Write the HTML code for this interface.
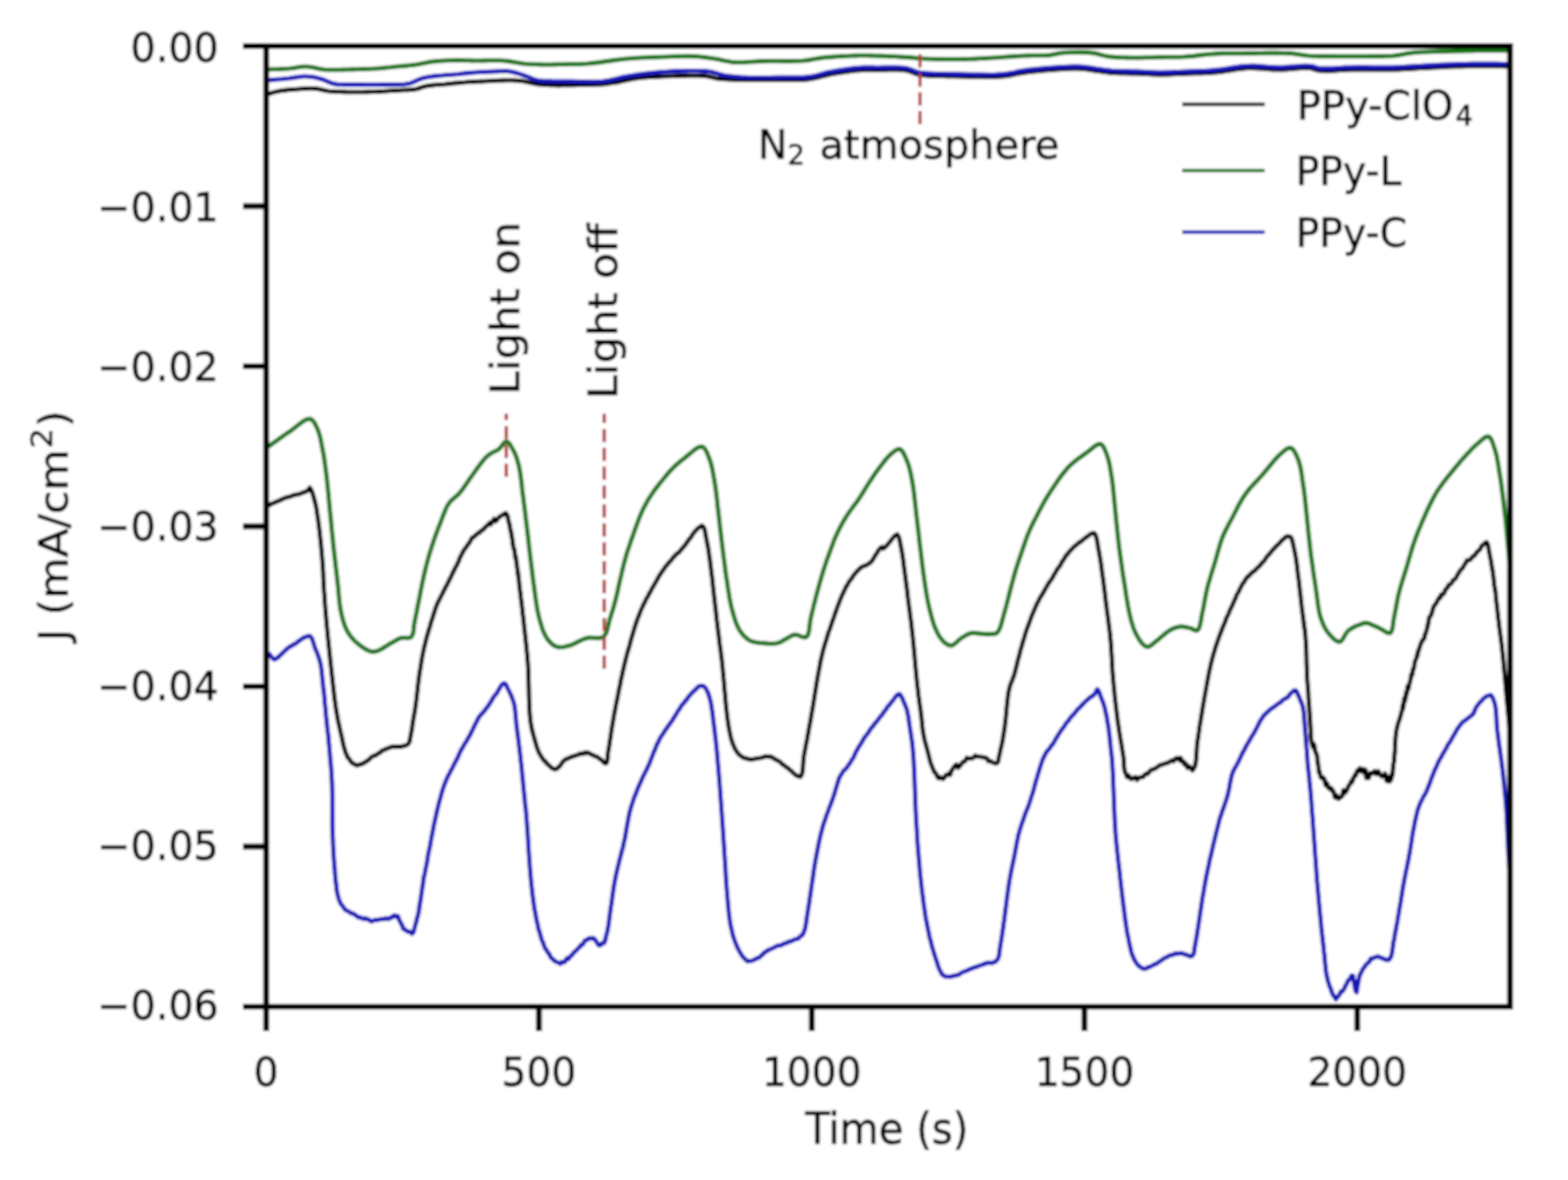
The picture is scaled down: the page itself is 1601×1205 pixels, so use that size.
<!DOCTYPE html>
<html><head><meta charset="utf-8"><style>
html,body{margin:0;padding:0;background:#fff;}
svg{display:block;}
text{fill:#000;stroke:#000;stroke-width:0.6px;}
</style></head><body>
<svg width="1601" height="1205" viewBox="0 0 1601 1205">
<defs><filter id="bl" filterUnits="userSpaceOnUse" x="0" y="0" width="1601" height="1205"><feGaussianBlur stdDeviation="1.0"/></filter></defs>
<g filter="url(#bl)">
<rect width="1601" height="1205" fill="#fff"/>
<defs><clipPath id="ax"><rect x="271.8" y="47.0" width="1270.0" height="981.0"/></clipPath></defs>
<g clip-path="url(#ax)">
<polyline points="274.0,516.7 276.8,514.7 279.5,513.7 282.2,512.4 284.9,511.4 287.8,509.9 289.2,509.4 290.7,508.4 292.7,508.1 294.6,507.2 296.8,507.0 299.0,505.9 301.3,505.3 303.5,504.9 305.6,504.5 307.8,503.7 309.6,502.9 311.3,502.4 313.9,500.9 314.5,500.9 315.0,500.0 315.4,499.6 315.7,498.8 316.1,498.5 316.4,498.0 317.3,499.3 318.2,501.4 319.1,503.7 320.0,506.7 320.8,509.7 321.6,512.9 322.0,514.0 322.4,516.3 322.8,517.7 323.1,519.3 323.4,521.3 323.7,523.6 324.0,525.4 324.3,527.8 324.6,529.1 324.9,531.3 325.2,533.8 325.5,536.2 325.7,537.9 325.9,539.0 326.2,542.0 326.4,543.0 326.6,544.5 326.7,546.7 326.9,548.0 327.1,550.0 327.3,551.6 327.4,553.3 327.6,555.4 327.8,556.6 327.9,558.3 328.1,560.3 328.2,561.3 328.4,563.2 328.5,565.7 328.7,566.5 328.8,567.9 329.0,570.4 329.1,572.1 329.3,574.2 329.5,576.6 329.6,578.5 329.7,580.8 329.9,582.7 330.0,585.3 330.1,587.2 330.1,589.3 330.2,590.9 330.3,593.2 330.4,595.8 330.6,597.8 330.7,600.3 330.8,601.9 330.9,603.4 331.0,604.9 331.2,606.9 331.3,609.0 331.4,611.1 331.5,612.3 331.7,614.6 331.8,616.1 331.9,617.7 332.1,619.8 332.2,621.7 332.4,623.3 332.5,625.3 332.7,627.3 332.9,629.7 333.0,631.0 333.2,633.3 333.4,635.2 333.6,637.3 333.7,639.3 333.9,640.9 334.1,642.3 334.2,644.6 334.4,646.0 334.5,648.2 334.7,649.6 334.9,651.0 335.0,652.7 335.2,654.2 335.4,656.3 335.5,657.9 335.7,659.5 335.9,661.2 336.1,662.5 336.2,664.2 336.4,665.8 336.6,668.3 336.8,669.9 337.0,671.4 337.1,673.1 337.3,674.7 337.5,676.7 337.7,678.1 337.8,679.6 338.0,681.0 338.2,682.6 338.4,684.7 338.6,686.7 338.8,688.1 339.0,690.4 339.2,691.8 339.4,694.4 339.6,695.6 339.8,697.3 340.0,699.5 340.2,700.7 340.4,702.6 340.6,704.5 340.8,705.9 341.0,708.0 341.2,709.9 341.4,711.6 341.6,713.7 341.8,714.9 342.1,716.3 342.3,718.2 342.6,720.5 342.9,722.6 343.2,724.5 343.6,727.3 344.0,729.3 344.3,731.0 344.7,733.6 345.1,735.4 345.5,737.4 345.9,739.4 346.4,741.2 346.8,743.3 347.3,745.6 347.7,747.5 348.2,749.3 348.7,751.7 349.1,753.4 349.6,755.8 350.0,757.8 350.5,760.1 351.0,762.1 351.5,764.3 352.1,766.0 352.7,768.0 353.3,769.7 354.1,771.1 354.8,773.2 356.0,774.3 357.3,776.1 358.7,778.2 360.1,779.5 361.6,780.2 363.1,781.0 364.4,781.5 365.8,781.4 367.1,780.6 368.5,780.6 370.0,779.8 371.4,779.2 373.3,778.0 375.1,776.8 377.0,775.6 379.0,773.3 381.0,772.1 383.1,771.6 385.7,769.8 387.1,768.9 388.5,768.3 390.0,766.5 391.4,766.1 392.9,765.8 394.3,764.6 397.1,763.8 399.7,762.7 401.4,762.5 403.0,762.6 404.6,762.5 406.1,762.6 407.6,762.4 409.1,762.8 410.5,762.2 411.9,761.8 413.3,761.5 414.6,761.1 415.8,760.5 416.8,759.7 417.5,758.4 418.1,757.8 418.5,755.9 418.7,754.0 419.0,752.7 419.3,751.1 419.8,748.6 420.3,745.8 420.7,743.9 421.1,740.8 421.5,737.6 421.9,735.5 422.3,732.7 422.7,730.5 423.2,728.3 423.6,726.1 424.0,723.0 424.4,720.0 424.7,717.8 425.0,716.1 425.2,714.1 425.5,710.7 425.7,709.8 425.9,708.2 426.1,706.4 426.3,704.3 426.4,703.0 426.6,700.9 426.8,699.5 427.0,698.2 427.2,695.7 427.5,694.8 427.7,693.0 427.9,691.1 428.2,688.4 428.6,686.9 428.9,684.1 429.3,682.1 429.7,679.5 430.0,677.4 430.4,675.1 430.8,672.7 431.2,670.2 431.7,667.9 432.1,665.7 432.6,663.7 433.1,661.1 433.6,658.8 434.2,657.1 434.7,654.4 435.3,652.4 435.9,649.9 436.5,648.1 437.1,645.8 437.7,643.6 438.3,641.8 438.9,640.2 439.5,637.8 440.0,635.7 440.6,634.0 441.1,632.4 441.7,630.7 442.2,629.0 442.8,626.8 443.4,625.4 443.9,623.7 444.6,621.3 445.2,620.0 445.8,618.3 446.5,616.6 447.2,614.7 447.9,613.7 448.7,612.1 449.4,610.7 450.2,609.0 451.0,607.5 451.8,606.3 452.6,604.3 453.4,602.6 454.2,601.5 455.0,599.3 455.8,598.4 456.6,596.7 457.4,594.8 458.1,594.0 458.9,591.8 459.7,590.3 460.5,588.9 461.2,587.5 462.0,585.3 462.8,584.2 463.5,582.7 464.3,581.0 465.1,579.4 465.9,578.1 466.6,576.8 467.3,575.2 468.1,573.6 468.8,571.9 469.5,569.6 470.3,568.1 471.1,566.8 471.9,565.2 472.7,563.6 473.5,562.2 474.4,560.8 476.1,558.6 478.0,555.8 479.9,553.4 481.9,549.1 483.9,548.3 486.0,546.2 488.3,544.3 489.5,544.1 490.7,542.4 491.9,541.6 493.1,541.1 495.6,538.3 497.9,536.3 500.0,534.0 501.2,535.4 502.4,532.8 503.5,532.1 504.5,529.8 505.6,532.3 506.8,531.8 508.3,529.5 509.9,527.8 511.5,527.0 513.1,525.7 514.6,525.2 515.8,524.1 516.7,524.0 517.5,525.5 518.1,526.9 518.6,527.8 519.1,531.7 519.7,533.8 520.4,536.0 520.8,539.1 521.1,540.7 521.4,541.8 521.7,543.4 522.0,543.5 522.3,547.0 522.6,548.5 522.9,549.2 523.2,551.4 523.5,555.6 523.8,555.8 524.2,559.0 524.5,560.4 524.8,560.9 525.2,561.2 525.5,563.6 525.8,565.2 526.1,569.6 526.5,568.1 526.8,569.3 527.1,572.9 527.4,573.6 527.6,576.7 527.8,577.4 528.1,580.1 528.3,581.3 528.5,581.3 528.7,586.4 529.0,584.9 529.2,586.7 529.4,589.0 529.6,590.5 529.8,592.1 530.0,595.1 530.2,596.1 530.4,598.4 530.6,599.8 530.8,601.8 531.0,603.3 531.2,605.0 531.5,606.8 531.7,609.1 531.9,611.0 532.1,612.3 532.3,614.2 532.5,616.2 532.8,618.2 533.0,619.5 533.2,621.4 533.4,623.5 533.6,626.0 533.8,627.3 534.0,628.7 534.3,630.9 534.5,632.7 534.7,634.7 534.9,636.7 535.1,638.5 535.3,641.0 535.5,642.8 535.8,644.6 536.0,646.9 536.2,648.7 536.5,651.0 536.7,652.8 536.9,655.2 537.1,657.4 537.3,659.0 537.5,659.7 537.6,661.7 537.8,664.2 537.9,665.2 538.1,667.2 538.3,668.6 538.4,670.6 538.5,671.7 538.7,673.9 538.8,675.3 539.0,677.3 539.1,679.1 539.2,681.2 539.3,682.3 539.4,685.3 539.5,686.5 539.5,688.4 539.6,689.9 539.6,692.0 539.7,693.6 539.7,695.2 539.8,697.1 539.8,698.8 539.9,700.8 539.9,702.3 540.0,704.2 540.0,706.0 540.0,708.0 540.1,709.6 540.1,710.8 540.2,712.9 540.2,714.8 540.3,716.3 540.4,717.9 540.4,719.8 540.5,722.0 540.6,723.8 540.7,725.1 540.8,727.5 541.0,729.9 541.2,731.5 541.3,733.9 541.5,735.3 541.8,737.8 542.1,739.1 542.3,740.4 542.6,742.3 543.2,745.2 543.9,747.9 544.6,750.6 545.4,753.4 546.1,756.1 546.9,758.4 547.6,761.5 548.5,764.0 549.4,766.3 550.5,768.9 551.6,770.8 552.8,772.8 554.1,774.6 555.4,776.8 556.8,777.4 558.2,779.5 559.7,781.0 561.1,782.0 562.7,783.8 564.2,784.6 565.8,785.3 567.3,785.6 568.8,784.8 570.3,783.5 571.8,782.0 573.2,780.0 574.7,777.8 576.3,776.4 577.5,775.3 578.7,775.1 580.0,774.4 581.2,774.0 582.5,773.4 584.0,772.7 586.0,772.2 588.3,771.3 590.7,770.6 593.0,769.4 595.1,769.9 596.8,768.8 597.5,768.4 598.0,769.0 598.4,768.3 598.9,768.8 599.4,768.9 600.0,768.7 601.6,769.1 603.6,770.4 605.8,771.4 608.0,772.3 610.2,773.2 612.0,774.6 613.3,775.5 614.5,776.3 615.7,777.5 616.8,778.8 617.8,779.5 618.6,779.6 619.4,778.8 619.9,777.5 620.3,775.0 620.5,772.2 620.8,769.6 621.2,766.1 621.6,764.0 622.0,762.0 622.2,760.3 622.5,758.3 622.8,756.5 623.0,754.9 623.3,753.1 623.6,751.1 623.9,748.9 624.2,747.1 624.5,744.6 624.8,743.0 625.1,741.4 625.4,739.1 625.8,737.2 626.1,735.5 626.5,733.0 626.8,730.8 627.1,729.7 627.4,727.8 627.8,726.4 628.1,724.2 628.4,722.7 628.8,720.7 629.1,718.8 629.5,716.9 629.9,715.2 630.2,713.8 630.5,712.2 630.8,710.7 631.1,709.0 631.5,707.2 631.8,705.5 632.1,703.5 632.4,702.7 632.8,700.7 633.1,699.4 633.4,697.8 633.7,695.4 634.1,693.9 634.5,692.5 634.9,690.4 635.2,689.2 635.6,687.0 636.0,685.1 636.5,683.4 636.9,681.5 637.3,679.4 637.8,677.5 638.2,676.1 638.7,674.1 639.1,672.2 639.5,670.8 640.0,668.8 640.8,665.7 641.2,664.6 641.7,662.7 642.1,661.4 642.6,659.9 643.1,658.0 643.6,655.8 644.1,654.0 644.7,652.3 645.2,650.0 645.7,648.5 646.3,646.6 646.8,644.9 647.4,642.8 648.0,640.4 648.6,639.1 649.2,637.0 649.8,635.0 650.4,633.7 651.0,631.7 651.7,630.3 652.3,628.6 653.0,626.8 653.7,625.0 654.3,623.5 655.0,621.9 655.7,620.4 656.5,618.5 657.2,617.1 657.9,615.9 658.7,614.2 659.4,612.5 660.2,611.3 661.0,609.7 661.7,608.8 662.5,606.8 663.3,605.6 664.1,604.1 664.9,602.8 665.7,601.0 666.5,599.6 668.0,597.2 669.5,594.5 671.0,591.8 672.6,588.8 674.1,586.6 675.8,583.9 677.5,581.8 679.2,578.9 681.0,577.2 682.8,574.7 684.6,572.8 686.4,570.7 687.9,568.6 689.4,567.4 690.8,565.6 692.4,564.8 694.0,563.2 695.7,560.9 696.8,559.8 697.9,558.3 698.9,557.3 699.9,556.3 700.8,554.7 701.8,553.3 702.7,552.2 703.7,550.5 704.7,549.6 705.7,548.5 706.7,546.4 708.0,544.6 709.3,543.0 710.6,541.6 711.8,540.3 712.9,539.2 714.1,538.5 716.7,536.8 718.1,537.9 719.2,539.9 720.0,543.6 720.3,545.0 720.6,547.1 720.9,548.5 721.2,550.1 721.6,552.1 721.9,553.5 722.3,555.8 722.7,557.5 723.0,559.3 723.4,561.6 723.7,563.7 724.0,566.2 724.3,568.7 724.6,570.5 724.9,572.0 725.2,575.1 725.4,576.6 725.7,579.0 726.0,581.2 726.2,583.3 726.4,584.4 726.6,586.7 726.9,588.2 727.1,590.1 727.3,592.0 727.5,593.7 727.7,596.0 727.9,597.7 728.1,599.6 728.3,601.2 728.5,603.6 728.8,605.3 729.0,607.8 729.2,609.4 729.4,611.2 729.6,613.1 729.8,614.2 730.0,617.1 730.2,618.2 730.5,620.4 730.7,622.3 730.9,624.1 731.1,626.0 731.3,628.1 731.5,629.7 731.7,631.7 731.9,633.8 732.2,635.4 732.4,637.3 732.6,638.9 732.8,641.1 733.0,642.5 733.2,644.7 733.5,646.4 733.7,648.1 733.9,649.6 734.1,651.4 734.3,652.8 734.5,654.9 734.7,656.6 734.9,657.9 735.1,659.9 735.3,661.1 735.6,663.0 735.8,664.2 736.0,666.0 736.2,667.9 736.4,669.6 736.6,671.3 736.9,673.0 737.1,675.4 737.3,677.3 737.5,678.6 737.6,680.3 737.8,682.0 738.0,683.5 738.1,685.4 738.3,687.2 738.5,688.6 738.6,690.6 738.8,692.0 738.9,694.1 739.1,696.3 739.3,698.1 739.4,700.0 739.5,701.9 739.7,703.3 739.8,704.8 740.0,706.2 740.1,707.8 740.3,709.6 740.4,711.3 740.6,713.0 740.7,714.9 740.9,716.4 741.0,718.1 741.2,719.6 741.3,721.3 741.5,723.1 741.7,724.6 741.9,726.3 742.1,728.0 742.3,730.4 742.5,731.5 742.7,733.5 743.0,735.2 743.2,736.8 743.5,739.5 743.7,739.9 744.1,742.6 744.5,745.1 744.9,746.6 745.2,748.4 745.6,750.4 746.0,752.2 746.4,753.9 746.9,755.4 747.8,758.3 748.9,761.1 749.8,763.4 750.7,764.9 751.7,766.8 752.8,768.4 754.0,769.8 755.3,771.2 756.8,772.2 758.4,773.4 760.2,774.2 762.0,774.5 763.8,775.0 765.6,775.6 767.3,775.5 769.0,775.3 770.7,774.9 772.5,774.5 774.2,774.3 775.9,774.1 777.6,773.8 779.4,773.3 781.2,772.4 782.9,772.7 784.6,772.5 786.2,772.9 787.6,772.8 788.9,773.7 790.1,774.5 791.3,775.2 792.6,776.0 793.9,776.6 795.6,777.5 797.2,778.7 798.9,780.6 800.6,781.4 802.4,783.2 804.2,784.0 806.4,786.1 808.7,788.1 809.9,789.3 811.1,790.3 813.4,792.1 815.4,792.8 817.1,793.2 818.4,791.6 818.8,790.2 819.3,788.4 819.5,786.6 819.8,784.6 819.9,781.8 820.1,779.6 820.2,778.0 820.4,775.4 820.7,773.1 820.9,771.1 821.2,769.9 821.5,768.3 821.9,766.0 822.2,764.7 822.5,762.8 822.8,761.2 823.1,759.7 823.4,758.1 823.8,756.6 824.1,755.1 824.4,752.5 824.8,750.6 825.1,749.2 825.4,748.2 825.6,746.1 825.9,744.4 826.2,742.7 826.5,741.1 826.9,739.4 827.2,737.5 827.5,735.9 827.8,734.1 828.1,732.2 828.4,730.4 828.7,728.6 829.0,727.1 829.3,725.4 829.6,723.7 829.9,722.0 830.2,720.4 830.5,718.7 830.7,716.8 831.0,715.2 831.3,713.8 831.5,712.3 831.8,709.9 832.0,708.7 832.3,707.7 832.5,705.7 832.8,704.3 833.0,702.5 833.3,700.7 833.5,699.2 833.8,697.5 834.1,695.6 834.3,694.5 834.6,693.0 834.9,691.2 835.3,688.5 835.8,686.2 836.2,684.0 836.7,681.5 837.1,679.5 837.6,676.7 838.0,674.2 838.5,672.8 839.1,669.8 839.6,667.7 840.1,665.5 840.7,663.3 841.3,661.2 841.9,658.9 842.5,657.0 843.2,654.9 843.9,652.7 844.5,650.6 845.2,648.3 845.9,645.7 846.6,644.1 847.4,642.1 848.1,640.0 848.8,637.7 849.5,635.6 850.3,633.3 851.0,631.5 851.8,629.2 852.5,626.9 853.3,625.0 854.1,622.5 854.9,620.3 855.7,618.1 856.5,616.3 857.3,614.0 858.1,611.8 858.8,610.4 859.5,608.5 860.3,606.9 861.0,605.4 861.7,604.1 862.5,602.2 863.2,600.8 864.0,599.1 864.8,597.9 865.6,596.6 866.5,594.8 867.4,593.2 869.2,591.2 870.1,589.8 871.1,588.1 873.0,585.7 875.0,583.5 877.1,581.4 879.1,579.3 880.6,578.9 882.2,577.8 883.8,577.5 885.3,576.8 886.9,575.5 888.4,574.8 889.5,573.7 890.5,572.7 891.6,570.7 892.7,568.9 893.8,566.8 894.9,565.7 895.9,564.0 896.9,562.0 898.6,559.9 900.0,558.8 900.4,558.9 900.7,558.6 900.9,559.8 901.2,559.4 901.5,559.7 901.9,560.2 903.7,558.9 904.9,557.5 906.1,556.4 907.5,554.6 908.9,553.0 910.3,551.2 911.7,549.4 912.9,547.8 914.2,546.7 916.1,545.7 917.1,547.2 917.9,548.7 918.5,551.0 919.0,553.5 919.4,556.2 920.0,558.6 920.3,561.0 920.7,562.4 921.0,564.5 921.4,566.5 921.7,568.8 922.0,570.7 922.3,572.8 922.6,575.5 922.9,577.9 923.2,580.4 923.5,582.6 923.8,584.7 924.0,586.3 924.3,588.5 924.5,589.3 924.7,591.5 924.9,593.1 925.1,594.7 925.3,596.3 925.6,597.8 925.8,600.2 926.0,601.4 926.2,603.0 926.4,605.0 926.6,607.1 926.8,608.6 927.0,610.5 927.2,612.0 927.5,614.1 927.7,615.3 927.9,617.3 928.1,619.1 928.3,620.3 928.5,622.3 928.8,623.8 929.0,625.5 929.2,627.4 929.4,629.1 929.6,630.9 929.9,632.5 930.1,633.8 930.3,636.1 930.5,637.4 930.7,638.9 930.9,641.2 931.1,643.2 931.3,644.9 931.5,645.9 931.7,648.1 931.9,650.1 932.1,651.5 932.3,653.9 932.5,655.7 932.7,657.9 932.8,659.0 933.0,661.4 933.2,663.6 933.4,665.2 933.5,667.0 933.7,668.8 933.9,670.8 934.0,672.5 934.2,674.4 934.4,676.3 934.5,678.4 934.7,680.1 934.9,682.0 935.1,684.4 935.3,686.4 935.5,688.5 935.7,690.8 935.9,692.8 936.1,694.5 936.3,696.5 936.5,699.0 936.7,700.9 937.0,702.5 937.2,705.0 937.5,706.7 937.7,709.4 938.0,711.6 938.3,713.3 938.5,715.2 938.8,717.3 939.1,719.8 939.4,721.7 939.7,723.4 940.0,725.9 940.2,728.0 940.5,729.8 940.7,731.2 940.9,733.4 941.1,735.2 941.3,736.8 941.5,738.8 941.6,740.5 941.8,742.7 942.0,743.9 942.2,746.0 942.5,747.1 942.7,749.1 943.0,750.4 943.6,753.5 944.2,756.3 944.9,758.7 945.6,761.6 946.4,764.0 947.1,766.9 947.8,769.4 948.6,772.9 949.3,775.7 950.1,778.7 951.0,781.2 952.1,783.9 953.2,786.6 954.4,789.0 955.6,789.5 956.9,792.8 958.4,794.9 959.8,793.7 961.2,794.3 962.7,795.6 964.3,794.0 965.8,791.5 967.4,791.3 968.8,790.0 970.1,791.2 971.4,787.2 972.6,785.2 973.8,783.8 975.1,781.8 976.5,780.7 978.4,784.0 980.5,781.7 982.7,778.5 984.9,777.7 987.2,773.9 989.4,774.8 991.5,774.4 993.6,774.0 995.7,771.7 997.9,772.6 1000.1,772.7 1002.3,773.0 1004.9,773.4 1007.8,774.5 1009.3,777.3 1010.8,777.0 1013.5,778.6 1015.9,779.4 1017.7,779.4 1018.5,778.6 1019.1,777.8 1019.4,776.3 1019.7,774.6 1019.9,772.9 1020.3,771.6 1020.7,770.2 1021.1,767.9 1021.5,765.7 1022.0,763.9 1022.4,761.8 1022.9,760.1 1023.3,757.8 1023.8,755.9 1024.0,753.9 1024.3,752.0 1024.6,750.6 1024.9,748.9 1025.1,747.1 1025.4,745.6 1025.6,743.8 1025.9,742.4 1026.1,739.9 1026.3,739.1 1026.5,737.1 1026.7,735.2 1026.9,733.5 1027.1,731.2 1027.3,729.7 1027.5,727.7 1027.7,725.6 1027.8,723.2 1028.0,721.6 1028.2,719.8 1028.4,717.9 1028.6,716.2 1028.8,714.2 1029.0,712.2 1029.3,710.0 1029.5,708.4 1029.8,706.3 1030.2,705.0 1030.6,703.0 1031.3,700.1 1032.1,698.1 1032.9,696.0 1033.7,694.4 1034.5,691.8 1035.3,690.0 1035.8,688.3 1036.2,686.6 1036.7,685.0 1037.1,683.1 1037.6,681.6 1038.0,679.6 1038.5,677.7 1038.9,675.6 1039.4,674.1 1039.9,671.9 1040.4,670.6 1040.9,668.7 1041.5,665.8 1042.2,663.0 1042.6,662.0 1043.0,660.7 1043.5,658.7 1044.0,657.2 1044.4,655.2 1044.9,653.9 1045.4,652.7 1045.9,650.8 1046.3,649.0 1046.8,647.5 1047.3,645.8 1047.8,644.3 1048.4,642.8 1048.9,641.3 1049.4,639.7 1050.2,638.1 1050.9,635.8 1051.7,633.8 1052.4,631.7 1053.2,629.4 1054.0,627.8 1054.9,625.7 1055.7,623.5 1056.6,621.7 1057.4,619.6 1058.3,617.8 1059.2,615.6 1060.1,614.4 1060.9,612.6 1061.8,610.7 1062.8,609.0 1063.7,607.8 1064.6,606.1 1065.6,604.6 1066.5,602.8 1067.5,601.1 1068.5,599.3 1069.5,597.7 1070.5,595.8 1071.7,594.1 1072.8,592.5 1074.0,591.2 1075.3,588.5 1076.5,586.4 1077.8,584.6 1079.0,581.8 1080.3,580.4 1081.4,578.7 1082.6,577.4 1083.6,575.1 1084.6,573.2 1085.7,572.2 1086.6,570.4 1087.5,569.0 1088.3,567.5 1089.3,566.5 1090.3,565.5 1091.5,563.8 1092.9,562.2 1094.3,560.9 1095.7,559.2 1097.2,557.8 1098.7,556.8 1100.4,555.3 1102.1,553.9 1104.0,552.9 1105.8,551.2 1107.6,549.8 1109.3,548.4 1110.7,547.8 1112.1,546.3 1113.4,545.3 1114.7,545.1 1115.9,544.4 1117.0,544.3 1118.4,545.8 1119.4,548.8 1119.8,550.4 1120.2,552.2 1120.5,554.1 1120.9,556.3 1121.2,559.2 1121.5,560.2 1121.8,562.0 1122.2,564.0 1122.6,565.9 1122.9,568.1 1123.3,570.4 1123.6,571.8 1123.9,574.5 1124.3,576.4 1124.5,578.5 1124.8,581.2 1125.1,583.1 1125.4,585.2 1125.7,587.8 1126.0,589.8 1126.3,591.3 1126.5,593.0 1126.7,594.8 1126.9,596.4 1127.1,597.9 1127.3,600.0 1127.6,601.4 1127.8,603.4 1128.0,604.6 1128.2,606.7 1128.4,608.7 1128.6,610.4 1128.8,611.6 1129.0,614.1 1129.2,615.5 1129.5,617.1 1129.7,618.7 1129.9,620.8 1130.1,622.6 1130.3,624.4 1130.5,625.6 1130.8,627.2 1131.0,629.0 1131.2,630.8 1131.5,632.3 1131.7,634.3 1131.9,635.6 1132.1,637.6 1132.3,639.4 1132.6,641.3 1132.8,642.9 1133.0,644.6 1133.2,645.9 1133.4,647.9 1133.6,649.5 1133.7,651.3 1133.9,653.6 1134.1,655.2 1134.3,657.6 1134.4,659.3 1134.5,660.5 1134.6,662.3 1134.7,664.0 1134.8,665.8 1134.9,667.1 1135.0,668.8 1135.1,670.3 1135.2,671.7 1135.3,673.9 1135.3,676.0 1135.4,677.0 1135.5,678.7 1135.6,680.2 1135.7,681.7 1135.8,683.5 1136.0,685.9 1136.1,688.3 1136.3,690.1 1136.5,691.8 1136.6,693.7 1136.8,696.1 1137.0,697.3 1137.1,699.7 1137.3,701.4 1137.5,703.5 1137.7,705.1 1137.9,707.0 1138.0,708.6 1138.2,710.7 1138.4,712.4 1138.6,714.2 1138.8,716.2 1139.0,717.8 1139.2,719.7 1139.4,721.6 1139.6,723.2 1139.9,725.3 1140.1,727.1 1140.4,729.4 1140.7,731.6 1140.9,734.1 1141.2,736.0 1141.5,738.1 1141.8,739.9 1142.1,742.2 1142.4,744.0 1142.7,746.3 1143.0,748.2 1143.3,749.9 1143.7,752.1 1144.0,754.8 1144.4,756.3 1144.7,758.4 1145.1,760.5 1145.4,762.9 1145.8,765.2 1146.1,767.0 1146.5,769.1 1146.8,771.3 1147.1,773.2 1147.4,776.3 1147.6,779.1 1147.7,782.2 1148.0,785.6 1148.6,788.0 1149.6,790.3 1150.8,793.3 1152.4,791.9 1154.1,795.3 1155.9,795.5 1157.8,794.2 1159.5,793.6 1161.0,796.5 1162.5,794.2 1164.0,793.9 1165.5,793.7 1167.0,793.5 1168.5,791.5 1170.2,790.1 1171.8,790.3 1173.5,788.1 1175.2,786.3 1176.9,785.5 1178.8,785.2 1180.8,783.8 1182.9,782.3 1185.0,781.1 1187.2,780.8 1189.4,779.7 1191.6,779.2 1193.8,778.3 1196.1,776.5 1198.4,777.2 1200.7,774.3 1202.7,774.0 1204.5,776.5 1205.5,774.0 1206.4,776.4 1207.2,778.0 1207.9,777.6 1208.7,777.8 1209.6,780.8 1211.0,780.2 1212.6,784.2 1214.3,782.6 1215.9,784.5 1217.4,786.8 1218.6,785.3 1220.0,782.6 1220.4,781.2 1220.9,778.6 1221.1,776.5 1221.2,775.7 1221.4,775.0 1221.5,771.2 1221.6,769.6 1221.7,770.8 1221.8,767.6 1221.9,765.7 1222.0,764.6 1222.3,759.1 1222.5,759.1 1222.9,754.9 1223.3,753.7 1223.7,749.8 1224.1,747.6 1224.6,744.2 1224.8,741.7 1225.1,740.5 1225.4,738.6 1225.7,737.1 1226.0,735.5 1226.3,732.9 1226.6,730.6 1227.0,729.1 1227.3,727.5 1227.5,725.8 1227.8,723.5 1228.1,722.4 1228.4,720.7 1228.7,718.5 1229.0,717.2 1229.3,715.4 1229.5,713.7 1229.8,712.4 1230.1,710.3 1230.4,709.1 1230.8,707.1 1231.1,704.7 1231.5,703.2 1231.9,700.9 1232.3,698.2 1232.7,696.7 1233.1,693.9 1233.5,691.9 1233.9,689.8 1234.3,687.7 1234.7,685.2 1235.2,683.8 1235.6,681.8 1236.1,679.4 1236.6,677.0 1237.2,675.1 1237.7,672.8 1238.3,670.6 1238.9,668.4 1239.5,666.4 1240.2,664.4 1240.8,662.0 1241.5,659.7 1242.2,658.0 1242.9,655.8 1243.6,653.7 1244.4,651.5 1244.9,649.9 1245.5,648.4 1246.1,647.0 1246.7,645.2 1247.3,644.2 1247.9,641.7 1248.5,640.7 1249.1,639.1 1249.8,637.7 1250.4,636.1 1251.1,634.7 1251.7,632.4 1252.4,630.6 1253.1,629.4 1253.8,628.1 1254.5,626.6 1255.2,624.7 1255.9,622.8 1256.7,621.3 1257.5,619.8 1258.3,618.0 1259.1,616.3 1259.9,614.3 1260.7,612.4 1261.5,611.2 1262.3,608.5 1263.2,606.6 1264.0,605.6 1264.9,603.9 1265.8,601.6 1266.7,600.3 1267.6,598.2 1268.5,596.5 1269.5,595.2 1270.4,594.2 1271.4,592.2 1272.6,590.4 1273.8,588.9 1275.1,588.3 1276.3,586.7 1277.6,585.5 1278.9,584.1 1280.3,583.4 1281.6,582.4 1282.9,580.8 1284.2,579.6 1285.5,578.5 1286.8,577.0 1288.1,575.3 1289.4,574.0 1290.7,573.0 1292.0,570.9 1293.2,569.0 1294.5,567.4 1295.8,566.1 1297.1,564.4 1298.3,563.3 1299.6,561.4 1300.9,560.2 1302.2,558.9 1303.4,557.2 1304.7,556.5 1306.0,555.1 1307.2,553.7 1308.5,552.1 1309.8,550.8 1311.1,550.2 1312.3,548.6 1314.5,547.6 1316.4,547.9 1317.7,548.3 1318.7,549.8 1319.5,552.2 1320.2,555.3 1320.9,558.6 1321.5,561.6 1321.9,563.3 1322.4,565.5 1322.7,567.1 1323.1,569.3 1323.4,571.4 1323.7,573.3 1324.0,575.7 1324.3,578.0 1324.5,580.4 1324.8,582.7 1325.1,585.1 1325.4,587.6 1325.6,589.3 1325.8,590.4 1326.1,592.5 1326.3,594.5 1326.5,596.1 1326.7,597.8 1326.9,600.1 1327.1,601.3 1327.3,603.8 1327.5,605.4 1327.8,607.8 1328.0,609.4 1328.2,611.5 1328.4,613.2 1328.6,615.2 1328.8,617.3 1329.0,618.6 1329.2,620.5 1329.5,622.6 1329.7,624.0 1329.9,625.8 1330.1,627.2 1330.4,630.7 1330.6,630.5 1330.8,632.5 1331.1,636.5 1331.3,635.1 1331.5,640.7 1331.8,640.0 1332.0,640.9 1332.2,643.1 1332.4,645.9 1332.6,644.3 1332.8,648.7 1332.9,650.3 1333.1,652.8 1333.2,653.4 1333.4,656.2 1333.5,660.0 1333.6,661.9 1333.7,660.2 1333.7,662.1 1333.8,663.7 1333.8,667.1 1333.9,667.6 1333.9,669.5 1334.0,671.1 1334.0,673.0 1334.1,678.4 1334.1,676.5 1334.2,679.7 1334.2,681.0 1334.3,681.4 1334.3,681.9 1334.4,684.4 1334.5,688.0 1334.6,691.3 1334.7,694.1 1334.9,694.8 1335.0,696.9 1335.1,698.5 1335.3,699.9 1335.4,702.4 1335.6,705.1 1335.7,706.0 1335.9,707.5 1336.0,712.2 1336.2,713.9 1336.3,717.5 1336.4,717.7 1336.6,720.5 1336.7,720.5 1336.8,721.8 1337.0,726.3 1337.1,726.4 1337.2,728.5 1337.4,731.0 1337.5,732.0 1337.6,735.6 1337.8,736.1 1337.9,740.4 1338.1,741.8 1338.2,742.6 1338.3,748.7 1338.4,750.9 1338.7,753.4 1339.2,758.4 1339.7,759.3 1340.4,762.6 1341.2,759.5 1341.9,760.9 1342.7,766.6 1343.4,767.8 1343.8,769.8 1344.3,769.9 1344.6,771.5 1345.0,772.7 1345.2,777.8 1345.4,779.1 1345.6,778.1 1345.9,781.3 1346.1,782.0 1346.4,785.5 1346.8,788.7 1347.3,787.7 1347.9,791.0 1348.5,793.6 1349.6,794.7 1350.8,793.9 1352.1,795.2 1353.5,801.9 1354.9,799.6 1356.3,804.6 1357.9,804.3 1358.7,806.4 1359.6,805.2 1360.5,807.6 1361.4,807.9 1363.1,814.4 1364.9,812.2 1366.5,815.9 1367.9,814.8 1369.2,813.9 1370.5,812.8 1371.8,806.8 1373.0,809.9 1374.3,808.4 1375.6,806.2 1377.0,802.2 1378.3,801.2 1379.6,797.7 1380.8,798.5 1382.0,793.8 1382.8,793.4 1383.6,791.2 1384.4,791.8 1385.2,788.6 1386.1,786.8 1387.1,787.4 1388.4,784.6 1389.8,787.9 1391.4,785.1 1392.9,789.2 1394.1,786.0 1394.8,788.7 1395.0,789.9 1395.0,790.0 1394.9,791.3 1394.8,792.2 1394.8,790.3 1395.0,794.4 1395.9,791.3 1397.5,794.6 1399.3,789.4 1401.4,789.7 1403.4,787.4 1405.3,790.6 1407.1,787.4 1408.9,790.5 1410.8,793.0 1412.5,792.5 1414.2,790.0 1415.6,797.0 1416.4,797.7 1417.1,793.0 1417.7,795.9 1418.3,797.4 1418.9,798.1 1419.4,796.2 1420.4,796.1 1421.2,790.3 1421.5,791.1 1421.8,791.9 1422.1,785.4 1422.3,786.2 1422.6,781.5 1422.8,779.6 1423.1,778.9 1423.3,778.4 1423.5,776.8 1423.6,772.3 1423.8,772.1 1423.9,768.6 1424.0,770.5 1424.2,768.2 1424.3,764.4 1424.3,763.5 1424.4,761.2 1424.5,759.7 1424.7,756.9 1424.8,755.5 1424.9,753.0 1425.1,752.2 1425.2,750.8 1425.5,748.2 1425.9,745.6 1426.2,744.1 1426.6,742.4 1427.4,738.9 1428.3,736.8 1429.2,734.0 1430.1,730.6 1431.0,727.3 1431.4,726.0 1431.9,724.4 1432.3,719.6 1432.7,723.5 1433.1,719.6 1433.6,715.9 1434.0,712.6 1434.4,716.2 1434.8,712.9 1435.3,712.8 1435.7,707.0 1436.2,708.7 1436.7,707.1 1437.2,700.8 1437.7,704.3 1438.3,702.7 1438.9,698.7 1439.4,697.6 1440.0,694.7 1440.5,693.0 1441.1,688.2 1441.6,689.9 1442.1,688.7 1442.6,683.6 1443.3,683.4 1444.0,680.2 1444.6,676.0 1445.3,674.2 1445.9,672.9 1446.4,671.5 1446.9,669.0 1447.3,669.7 1447.6,666.3 1448.0,664.5 1448.5,664.8 1449.0,662.5 1449.7,660.8 1450.6,657.2 1451.4,656.3 1452.4,653.6 1453.3,653.2 1454.2,652.1 1454.8,648.6 1455.4,647.4 1456.1,645.2 1456.7,643.4 1457.3,641.1 1457.9,637.4 1458.3,637.4 1458.7,634.2 1459.2,630.6 1459.8,630.5 1460.5,629.0 1461.2,627.9 1461.9,626.2 1463.0,622.0 1464.2,618.6 1465.4,617.7 1466.7,615.5 1468.1,612.8 1469.6,610.1 1470.5,610.6 1471.5,607.0 1472.5,607.8 1473.5,606.3 1474.6,605.8 1475.7,602.3 1476.8,601.1 1477.9,600.4 1479.1,597.3 1480.2,597.0 1481.3,596.4 1482.5,594.9 1483.7,592.4 1485.0,591.7 1486.3,590.9 1487.6,588.1 1488.9,585.8 1490.2,583.9 1491.6,581.6 1492.9,580.8 1494.1,578.9 1495.4,576.5 1496.7,574.7 1497.9,572.1 1499.7,572.2 1501.4,571.6 1503.2,568.6 1504.9,567.9 1506.5,566.1 1508.2,563.4 1509.8,562.3 1511.4,560.6 1513.1,557.0 1514.6,556.3 1516.0,554.8 1517.2,553.8 1518.1,553.9 1518.9,555.3 1519.5,557.5 1520.0,560.5 1520.5,564.3 1521.0,565.9 1521.5,569.2 1522.0,571.2 1522.3,572.4 1522.6,574.2 1522.9,576.8 1523.2,578.6 1523.5,579.9 1523.8,582.1 1524.1,582.9 1524.3,585.4 1524.6,587.9 1524.9,588.8 1525.2,592.8 1525.4,593.7 1525.7,597.4 1525.9,599.2 1526.2,599.2 1526.4,603.1 1526.7,602.3 1526.9,603.7 1527.1,605.6 1527.3,608.7 1527.6,611.1 1527.8,614.1 1528.0,615.5 1528.2,616.9 1528.4,618.0 1528.6,620.3 1528.8,621.9 1529.0,624.6 1529.2,625.4 1529.4,628.6 1529.6,630.6 1529.8,631.5 1530.0,633.0 1530.3,635.3 1530.5,636.9 1530.7,639.4 1530.9,640.2 1531.1,641.9 1531.3,643.6 1531.5,645.4 1531.7,647.0 1532.0,648.2 1532.2,649.9 1532.4,651.9 1532.6,653.5 1532.8,655.0 1533.0,656.6 1533.3,658.0 1533.5,660.9 1533.7,662.4 1533.9,664.5 1534.1,665.9 1534.3,668.4 1534.5,669.8 1534.7,672.1 1534.9,673.6 1535.0,675.2 1535.2,677.2 1535.4,679.0 1535.5,680.9 1535.7,682.7 1535.9,684.6 1536.0,686.4 1536.2,687.9 1536.3,689.4 1536.5,690.8 1536.6,692.1 1536.8,694.4 1536.9,696.1 1537.1,697.5 1537.2,699.5 1537.4,701.6 1537.6,703.5 1537.7,705.4 1537.9,706.9 1538.0,708.8 1538.2,709.8 1538.3,712.2 1538.5,713.8 1538.6,715.3 1538.8,717.7 1538.9,718.5 1539.1,719.9 1539.2,721.6 1539.4,723.3 1539.5,724.4 1539.8,728.2 1540.0,730.4 1540.3,732.4 1540.5,734.9 1540.7,737.1 1541.0,740.2 1541.2,742.4 1541.4,744.3 1541.6,746.2 1541.8,747.3 1541.9,749.1 1542.1,751.2 1542.3,752.6 1542.4,754.3 1542.6,756.3 1542.8,758.8 1543.0,759.9 1543.1,761.1 1543.3,763.0 1543.5,764.7 1543.7,766.8 1543.8,768.2 1544.0,769.7" fill="none" stroke="#000000" stroke-width="4.6" stroke-linejoin="round" stroke-linecap="butt"/>
<polyline points="274.0,96.0 275.8,95.5 277.5,94.9 279.3,94.4 281.1,93.9 283.0,93.4 285.0,93.0 288.0,92.5 291.3,92.1 294.7,91.7 298.2,91.4 301.7,91.2 305.0,91.0 307.8,90.8 310.5,90.6 313.2,90.4 315.8,90.3 318.4,90.3 321.0,90.4 323.3,90.6 325.6,91.1 327.9,91.6 330.1,92.1 332.5,92.6 335.0,93.0 338.0,93.3 341.2,93.5 344.5,93.7 347.8,93.8 351.3,93.9 354.9,94.0 359.7,94.0 364.7,94.0 369.9,94.0 375.2,93.9 380.2,93.7 384.9,93.6 388.5,93.4 391.9,93.2 395.2,93.0 398.4,92.8 401.6,92.6 404.9,92.4 408.3,92.2 411.8,92.0 415.4,91.9 418.8,91.7 422.0,91.4 424.9,91.0 426.7,90.6 428.4,90.0 429.9,89.5 431.4,88.9 433.1,88.4 434.9,88.0 437.8,87.5 441.0,87.1 444.4,86.8 448.0,86.5 451.5,86.3 454.9,86.0 458.2,85.6 461.5,85.3 464.9,84.9 468.2,84.6 471.5,84.2 474.9,84.0 478.2,83.7 481.4,83.6 484.7,83.4 488.0,83.3 491.4,83.1 494.9,83.0 499.1,82.8 503.6,82.5 508.1,82.3 512.7,82.1 516.9,82.0 520.8,82.0 523.4,82.0 525.8,82.1 528.1,82.3 530.3,82.4 532.6,82.7 534.8,83.0 537.2,83.4 539.5,83.9 541.8,84.5 544.1,85.0 546.4,85.6 548.8,86.0 551.4,86.3 554.1,86.5 556.8,86.7 559.5,86.8 562.2,86.9 564.8,87.0 567.1,87.0 569.3,87.1 571.4,87.1 573.6,87.0 576.1,87.0 578.8,87.0 584.5,86.9 591.2,86.8 598.5,86.7 606.0,86.5 613.3,86.1 620.0,85.6 625.3,84.8 630.6,83.9 635.6,82.8 640.6,81.7 645.4,80.7 650.0,80.0 653.4,79.5 656.6,79.2 659.6,79.0 662.8,78.7 666.1,78.6 669.9,78.4 677.3,78.0 686.1,77.7 695.5,77.4 704.7,77.2 713.1,77.2 719.9,77.6 722.7,77.9 725.1,78.4 727.2,78.9 729.2,79.5 731.4,80.0 733.9,80.4 737.7,80.8 741.8,81.0 746.0,81.2 750.5,81.4 755.1,81.5 759.9,81.6 766.2,81.7 772.9,81.7 779.9,81.7 786.9,81.7 793.6,81.6 799.9,81.6 804.5,81.6 809.0,81.6 813.3,81.6 817.5,81.6 821.7,81.4 825.9,81.0 829.9,80.3 833.8,79.5 837.7,78.5 841.7,77.4 845.7,76.4 849.8,75.6 854.8,74.7 860.0,73.9 865.3,73.2 870.5,72.5 875.4,71.9 879.8,71.6 882.4,71.5 884.7,71.4 886.8,71.4 888.9,71.5 891.2,71.5 893.8,71.6 898.4,71.5 903.8,71.4 909.4,71.3 915.1,71.3 920.4,71.5 925.0,72.0 927.6,72.5 929.8,73.3 931.9,74.1 934.0,75.0 936.3,75.8 939.0,76.4 943.9,77.0 949.5,77.4 955.5,77.7 961.9,77.8 968.4,77.9 975.0,78.0 983.1,78.2 991.8,78.4 1000.8,78.5 1009.6,78.6 1017.8,78.4 1024.9,78.0 1028.7,77.5 1032.1,76.9 1035.2,76.3 1038.3,75.6 1041.4,75.0 1044.9,74.4 1049.5,73.8 1054.4,73.2 1059.5,72.7 1064.7,72.2 1069.8,71.7 1074.9,71.4 1080.0,71.0 1085.3,70.7 1090.6,70.5 1095.7,70.3 1100.5,70.3 1104.9,70.4 1107.5,70.6 1109.9,70.9 1112.1,71.3 1114.3,71.6 1116.5,72.0 1118.9,72.4 1121.4,72.7 1123.9,73.1 1126.5,73.5 1129.1,73.8 1131.9,74.1 1134.9,74.4 1139.4,74.7 1144.4,74.9 1149.6,75.0 1154.9,75.1 1160.1,75.2 1164.8,75.4 1168.4,75.6 1171.7,75.8 1175.0,76.0 1178.2,76.2 1181.4,76.3 1184.8,76.4 1188.7,76.3 1192.5,76.2 1196.4,76.0 1200.5,75.8 1204.6,75.6 1208.8,75.4 1214.0,75.2 1219.5,75.0 1225.0,74.9 1230.7,74.7 1236.3,74.4 1241.9,74.0 1247.2,73.4 1252.5,72.6 1257.8,71.7 1263.1,70.8 1268.4,70.1 1273.7,69.7 1279.0,69.7 1284.3,69.9 1289.6,70.3 1294.9,70.7 1300.3,71.1 1305.6,71.2 1311.1,71.1 1316.8,70.7 1322.6,70.2 1328.1,69.8 1333.1,69.6 1337.4,69.7 1339.5,70.0 1341.2,70.5 1342.7,71.0 1344.3,71.5 1346.0,72.0 1348.0,72.3 1352.3,72.5 1357.2,72.4 1362.6,72.1 1368.3,71.8 1374.1,71.4 1379.9,71.2 1386.8,71.2 1394.1,71.2 1401.7,71.2 1409.1,71.3 1416.1,71.3 1422.4,71.2 1426.2,71.1 1429.7,70.9 1433.0,70.8 1436.2,70.6 1439.7,70.4 1443.6,70.2 1449.9,69.8 1456.9,69.4 1464.3,69.0 1471.8,68.6 1479.2,68.3 1486.1,68.0 1491.6,67.9 1497.0,67.8 1502.3,67.7 1507.5,67.6 1512.7,67.6 1517.9,67.6 1523.2,67.6 1528.5,67.7 1533.8,67.8 1539.2,67.9 1544.5,68.0 1549.8,68.0" fill="none" stroke="#000000" stroke-width="4.6" stroke-linejoin="round" stroke-linecap="butt"/>
<polyline points="274.0,456.0 277.7,453.4 281.3,450.8 285.0,448.2 288.6,445.6 292.2,443.0 295.9,440.6 299.4,438.0 303.2,435.0 306.9,432.1 310.5,429.6 313.7,428.0 316.4,427.7 318.1,428.4 319.6,429.7 320.9,431.5 322.1,433.6 323.1,435.8 324.2,438.0 325.3,440.9 326.3,444.2 327.2,447.6 327.9,451.2 328.6,454.9 329.3,458.6 330.1,462.6 330.8,466.7 331.4,470.9 332.0,475.2 332.6,479.7 333.2,484.3 333.9,490.3 334.5,496.6 335.2,503.1 335.8,509.7 336.4,516.4 337.0,522.9 337.7,529.4 338.3,535.9 338.9,542.4 339.6,548.8 340.2,555.2 340.9,561.5 341.5,567.2 342.2,572.9 342.8,578.5 343.5,584.0 344.1,589.5 344.7,594.9 345.3,600.1 345.7,605.3 346.2,610.4 346.7,615.5 347.3,620.3 348.2,624.9 349.0,628.6 349.9,632.1 350.9,635.5 352.0,638.8 353.3,642.0 354.8,644.9 356.4,647.4 358.1,649.9 360.0,652.2 362.1,654.3 364.2,656.3 366.4,658.1 368.7,659.8 371.1,661.5 373.6,663.1 376.2,664.4 378.8,665.3 381.4,665.6 384.4,665.1 387.6,663.8 390.8,662.0 394.0,660.0 397.0,658.1 399.7,656.5 401.5,655.6 403.1,654.6 404.6,653.7 406.1,652.9 407.7,652.2 409.3,651.6 411.1,651.3 413.0,651.3 414.9,651.5 416.8,651.5 418.4,651.2 419.8,650.5 421.0,648.9 421.7,646.7 422.2,644.1 422.5,641.2 422.8,638.2 423.3,635.3 424.0,631.7 424.8,627.9 425.6,624.0 426.3,620.0 427.1,616.0 427.9,612.1 428.7,608.2 429.4,604.2 430.2,600.3 431.0,596.4 431.8,592.5 432.6,588.8 433.3,585.6 434.1,582.4 434.8,579.4 435.6,576.3 436.4,573.3 437.2,570.2 438.1,567.1 439.0,564.0 440.0,560.9 440.9,557.8 442.0,554.7 443.0,551.6 444.1,548.5 445.2,545.4 446.4,542.3 447.5,539.2 448.8,536.1 450.0,533.0 451.2,529.8 452.4,526.6 453.7,523.3 455.0,520.1 456.4,517.1 458.1,514.4 459.8,512.2 461.7,510.3 463.8,508.5 465.8,506.7 467.9,504.9 469.8,502.8 471.8,500.3 473.7,497.7 475.5,495.0 477.4,492.2 479.3,489.4 481.4,486.5 483.9,483.0 486.6,479.2 489.4,475.4 492.2,471.7 494.9,468.4 497.7,465.6 499.7,464.1 501.7,462.8 503.7,461.8 505.7,460.8 507.6,459.8 509.4,458.6 510.8,457.2 512.2,455.5 513.4,453.8 514.7,452.3 515.9,451.2 517.1,450.9 518.5,451.4 519.8,452.7 521.2,454.6 522.5,456.8 523.7,459.0 524.8,461.2 525.9,463.4 526.9,465.8 527.7,468.3 528.5,470.9 529.2,473.7 530.0,476.6 530.8,480.8 531.5,485.3 532.1,490.1 532.7,495.0 533.2,500.0 533.8,504.9 534.5,509.9 535.1,515.0 535.8,520.2 536.4,525.3 537.0,530.5 537.7,535.8 538.3,541.3 539.0,546.9 539.6,552.5 540.2,558.1 540.9,563.7 541.5,569.2 542.1,574.4 542.8,579.6 543.4,584.7 544.0,589.8 544.7,594.9 545.4,600.1 546.1,605.3 546.8,610.6 547.6,615.9 548.4,621.2 549.4,626.2 550.5,630.9 551.6,634.8 552.7,638.5 553.8,642.2 555.1,645.6 556.6,648.7 558.2,651.5 559.7,653.5 561.3,655.4 563.0,657.1 564.7,658.5 566.6,659.7 568.5,660.5 570.5,660.9 572.6,661.0 574.7,660.8 576.9,660.4 579.1,659.8 581.4,659.2 584.3,658.3 587.2,656.9 590.2,655.4 593.3,653.8 596.4,652.5 599.4,651.5 602.3,651.1 605.3,651.2 608.4,651.5 611.3,651.6 613.9,651.3 616.1,650.2 617.9,648.2 619.3,645.4 620.3,642.1 621.1,638.5 621.9,635.0 622.8,631.7 623.8,628.7 624.7,625.7 625.7,622.7 626.6,619.7 627.4,616.6 628.3,613.4 629.2,609.6 630.2,605.7 631.0,601.7 631.9,597.6 632.8,593.6 633.7,589.7 634.6,586.0 635.4,582.3 636.3,578.7 637.2,575.0 638.2,571.4 639.2,567.8 640.3,564.1 641.5,560.5 642.7,556.9 643.9,553.2 645.2,549.6 646.5,545.9 647.9,541.9 649.4,537.8 650.9,533.7 652.4,529.7 654.0,525.8 655.6,522.1 657.0,519.1 658.5,516.3 660.0,513.6 661.5,510.9 663.1,508.3 664.8,505.7 666.5,503.2 668.3,500.7 670.1,498.2 672.0,495.8 673.8,493.4 675.7,491.1 677.5,488.9 679.3,486.7 681.1,484.5 682.9,482.4 684.8,480.3 686.7,478.3 688.7,476.4 690.7,474.5 692.8,472.7 694.9,470.9 697.1,469.2 699.4,467.4 702.2,465.1 705.3,462.5 708.4,459.9 711.5,457.7 714.3,456.2 716.7,456.0 718.4,456.9 719.9,458.6 721.2,460.8 722.4,463.5 723.4,466.2 724.5,468.9 725.6,472.2 726.6,475.9 727.4,479.7 728.2,483.8 728.9,487.9 729.6,492.0 730.4,496.9 731.1,501.9 731.7,507.1 732.3,512.3 732.8,517.6 733.5,522.9 734.1,528.4 734.7,533.9 735.3,539.4 736.0,545.0 736.6,550.6 737.3,556.3 738.1,562.7 738.9,569.2 739.8,575.8 740.6,582.4 741.5,588.8 742.5,594.9 743.2,600.0 744.0,604.9 744.7,609.7 745.6,614.3 746.5,618.8 747.6,623.2 748.7,627.0 749.8,630.7 750.9,634.3 752.2,637.7 753.7,640.9 755.3,643.8 756.8,645.9 758.4,647.9 760.0,649.8 761.8,651.4 763.7,652.9 765.6,654.1 767.6,654.9 769.6,655.6 771.8,656.0 774.0,656.2 776.2,656.5 778.5,656.7 781.0,656.9 783.6,657.1 786.3,657.2 789.0,657.2 791.5,657.1 793.9,656.7 795.8,656.1 797.6,655.3 799.3,654.3 801.0,653.3 802.6,652.4 804.2,651.5 805.5,650.8 806.7,650.1 807.8,649.4 809.0,648.8 810.3,648.4 811.6,648.1 813.5,648.3 815.5,648.9 817.7,649.8 819.8,650.6 821.7,650.9 823.3,650.5 824.8,648.7 825.7,645.9 826.3,642.3 826.8,638.4 827.2,634.4 827.9,630.7 828.8,626.9 829.8,623.0 830.7,619.1 831.7,615.1 832.7,611.2 833.7,607.4 834.6,603.8 835.6,600.3 836.5,596.9 837.5,593.4 838.5,590.0 839.5,586.5 840.6,583.0 841.7,579.5 842.9,576.0 844.0,572.5 845.3,569.1 846.5,565.6 847.8,562.1 849.1,558.6 850.4,555.0 851.7,551.5 853.2,548.1 854.7,544.7 856.3,541.5 857.9,538.3 859.6,535.1 861.4,532.0 863.2,529.0 865.1,526.0 866.9,523.2 868.9,520.5 870.8,517.9 872.8,515.2 874.8,512.6 876.7,509.8 878.7,506.8 880.6,503.7 882.6,500.5 884.5,497.3 886.4,494.2 888.4,491.2 890.3,488.4 892.2,485.5 894.2,482.7 896.1,480.0 898.1,477.4 900.0,474.9 901.6,472.8 903.2,470.8 904.8,468.8 906.4,467.0 908.0,465.2 909.7,463.7 911.1,462.5 912.7,461.2 914.3,460.0 915.8,459.1 917.3,458.6 918.7,458.6 920.2,459.5 921.6,461.2 922.9,463.5 924.2,466.1 925.3,468.8 926.4,471.4 927.5,474.5 928.5,477.7 929.3,481.1 930.1,484.6 930.8,488.3 931.5,492.0 932.3,496.8 933.0,501.8 933.6,507.0 934.2,512.3 934.8,517.6 935.4,522.9 936.0,528.4 936.7,534.0 937.3,539.6 938.0,545.2 938.6,550.8 939.2,556.3 939.9,561.6 940.5,566.7 941.1,571.9 941.7,577.0 942.4,582.1 943.1,587.2 943.8,592.4 944.6,597.6 945.4,602.8 946.2,608.0 947.2,613.1 948.2,618.1 949.3,622.6 950.5,627.3 951.7,631.8 953.0,636.2 954.4,640.2 956.0,643.8 957.1,646.1 958.3,648.4 959.6,650.4 960.9,652.3 962.2,653.9 963.7,655.4 964.9,656.4 966.1,657.3 967.4,658.2 968.7,658.8 970.1,659.2 971.4,659.2 973.1,658.7 974.7,657.6 976.4,656.1 978.2,654.4 979.9,652.8 981.7,651.5 983.4,650.5 985.1,649.4 986.8,648.4 988.6,647.5 990.3,646.8 992.0,646.4 993.3,646.2 994.6,646.3 995.9,646.4 997.2,646.6 998.6,646.9 1000.0,647.0 1001.9,647.1 1004.0,647.3 1006.1,647.5 1008.2,647.6 1010.2,647.6 1012.0,647.5 1013.2,647.4 1014.3,647.4 1015.4,647.3 1016.4,647.1 1017.4,646.7 1018.3,646.0 1019.8,643.9 1021.1,641.0 1022.3,637.4 1023.4,633.4 1024.4,629.5 1025.4,625.8 1026.4,622.3 1027.4,618.8 1028.3,615.2 1029.2,611.7 1030.1,608.1 1031.0,604.6 1031.9,601.1 1032.8,597.6 1033.8,594.0 1034.7,590.5 1035.7,587.0 1036.7,583.5 1037.8,579.9 1038.9,576.4 1040.1,572.8 1041.3,569.3 1042.5,565.8 1043.7,562.3 1044.8,558.9 1046.0,555.6 1047.1,552.3 1048.3,549.0 1049.5,545.8 1050.8,542.6 1052.1,539.7 1053.4,536.9 1054.8,534.1 1056.2,531.3 1057.7,528.5 1059.2,525.6 1060.9,522.3 1062.7,518.9 1064.5,515.5 1066.4,512.0 1068.5,508.5 1070.7,504.9 1073.7,500.2 1077.0,495.3 1080.4,490.2 1084.0,485.3 1087.7,480.7 1091.3,476.6 1094.3,473.7 1097.3,471.2 1100.3,468.8 1103.4,466.6 1106.4,464.5 1109.3,462.4 1111.8,460.5 1114.4,458.4 1116.9,456.3 1119.3,454.6 1121.5,453.6 1123.5,453.4 1124.9,454.1 1126.1,455.5 1127.1,457.2 1128.1,459.3 1129.0,461.5 1129.9,463.7 1131.0,466.9 1132.0,470.5 1132.9,474.3 1133.6,478.4 1134.3,482.6 1135.0,486.9 1135.8,492.4 1136.5,498.3 1137.1,504.4 1137.7,510.6 1138.3,516.8 1138.9,522.9 1139.5,528.9 1140.1,534.9 1140.7,540.9 1141.4,546.9 1142.0,552.9 1142.7,558.9 1143.5,564.9 1144.3,570.9 1145.2,576.9 1146.0,582.9 1146.9,588.9 1147.9,594.9 1148.9,601.1 1149.8,607.4 1150.9,613.7 1151.9,619.9 1153.1,625.7 1154.3,630.9 1155.2,634.4 1156.2,637.6 1157.1,640.7 1158.2,643.6 1159.4,646.3 1160.8,648.9 1162.2,651.4 1163.8,653.9 1165.5,656.3 1167.4,658.3 1169.2,659.8 1171.0,660.5 1172.7,660.4 1174.4,659.6 1176.1,658.4 1177.8,657.0 1179.6,655.5 1181.3,654.1 1183.4,652.5 1185.6,650.6 1187.7,648.7 1189.9,646.9 1192.1,645.2 1194.2,643.8 1195.9,642.9 1197.6,642.0 1199.3,641.3 1201.0,640.7 1202.8,640.2 1204.5,639.9 1206.2,639.8 1208.0,639.9 1209.7,640.2 1211.5,640.5 1213.2,640.9 1214.8,641.2 1216.2,641.7 1217.6,642.4 1218.9,643.1 1220.2,643.7 1221.4,644.0 1222.5,643.8 1223.8,642.4 1224.8,639.9 1225.6,636.7 1226.3,633.0 1226.9,629.3 1227.6,625.8 1228.5,621.8 1229.3,617.6 1230.1,613.2 1230.9,608.8 1231.8,604.4 1232.8,600.1 1233.9,595.8 1235.2,591.5 1236.5,587.2 1237.8,582.9 1239.2,578.6 1240.5,574.3 1241.7,570.0 1242.9,565.6 1244.1,561.3 1245.4,556.9 1246.7,552.7 1248.2,548.6 1249.7,545.0 1251.4,541.6 1253.1,538.2 1254.8,534.9 1256.7,531.5 1258.5,528.0 1260.5,524.2 1262.5,520.3 1264.5,516.4 1266.7,512.4 1268.9,508.6 1271.4,504.9 1274.1,501.3 1277.0,497.8 1280.1,494.4 1283.2,491.1 1286.3,487.7 1289.4,484.3 1292.4,480.7 1295.5,477.0 1298.6,473.2 1301.6,469.6 1304.6,466.4 1307.4,463.7 1309.2,462.1 1311.0,460.5 1312.8,459.1 1314.5,458.0 1316.1,457.3 1317.7,457.3 1319.2,458.1 1320.6,459.5 1321.9,461.5 1323.2,463.9 1324.3,466.4 1325.4,468.9 1326.6,472.5 1327.6,476.5 1328.5,480.8 1329.2,485.3 1329.8,490.0 1330.5,494.6 1331.3,499.9 1332.0,505.4 1332.6,511.0 1333.2,516.6 1333.8,522.3 1334.4,528.0 1335.0,534.0 1335.6,539.9 1336.2,546.0 1336.9,552.0 1337.5,558.0 1338.2,564.1 1339.0,570.1 1339.9,576.2 1340.7,582.2 1341.6,588.3 1342.5,594.2 1343.4,600.1 1344.2,605.5 1344.9,611.0 1345.6,616.4 1346.4,621.6 1347.3,626.5 1348.5,630.9 1349.6,633.9 1350.7,636.8 1351.9,639.4 1353.2,641.9 1354.6,644.2 1356.3,646.4 1358.0,648.4 1359.9,650.5 1361.9,652.5 1364.0,654.1 1366.0,655.1 1367.8,655.4 1369.4,654.6 1370.9,652.8 1372.2,650.5 1373.6,648.0 1375.1,645.7 1376.8,643.8 1378.8,642.4 1381.0,641.1 1383.3,639.9 1385.7,638.9 1387.8,638.1 1389.7,637.4 1390.7,637.0 1391.5,636.7 1392.3,636.4 1393.1,636.2 1394.0,636.1 1395.0,636.1 1396.8,636.4 1398.9,637.1 1401.1,638.1 1403.4,639.2 1405.7,640.2 1407.9,641.2 1409.9,642.3 1412.1,643.6 1414.2,644.9 1416.2,646.0 1418.0,646.5 1419.4,646.4 1420.6,645.1 1421.4,643.0 1422.0,640.3 1422.4,637.2 1422.8,634.0 1423.3,630.9 1424.1,627.0 1424.9,622.8 1425.7,618.5 1426.5,614.0 1427.4,609.6 1428.4,605.2 1429.6,600.9 1430.8,596.6 1432.1,592.3 1433.5,588.0 1434.8,583.8 1436.2,579.5 1437.4,575.2 1438.6,570.9 1439.9,566.6 1441.1,562.3 1442.4,558.0 1443.9,553.8 1445.4,549.4 1447.0,545.1 1448.7,540.8 1450.5,536.6 1452.3,532.3 1454.2,528.0 1456.1,523.7 1458.1,519.3 1460.2,514.9 1462.4,510.6 1464.6,506.4 1467.0,502.3 1469.4,498.7 1471.9,495.1 1474.5,491.7 1477.1,488.3 1479.8,485.0 1482.5,481.7 1485.0,478.6 1487.7,475.4 1490.3,472.3 1492.9,469.3 1495.5,466.4 1497.9,463.7 1499.7,461.8 1501.4,460.0 1503.0,458.2 1504.7,456.6 1506.4,455.0 1508.2,453.4 1510.1,451.8 1512.1,449.9 1514.2,448.2 1516.2,446.7 1518.1,445.8 1519.8,445.7 1521.2,446.6 1522.4,448.3 1523.5,450.5 1524.4,453.1 1525.3,455.9 1526.2,458.6 1527.3,462.3 1528.3,466.4 1529.1,470.8 1529.9,475.3 1530.6,479.8 1531.3,484.3 1532.1,489.0 1532.8,493.7 1533.4,498.5 1534.0,503.3 1534.6,508.0 1535.2,512.6 1535.7,516.6 1536.1,520.4 1536.5,524.2 1537.0,527.9 1537.4,531.8 1537.8,535.8 1538.2,540.3 1538.6,544.9 1539.0,549.5 1539.4,554.3 1539.9,559.1 1540.3,564.1 1540.9,569.8 1541.5,575.7 1542.2,581.8 1542.9,587.9 1543.5,594.0 1544.2,600.1" fill="none" stroke="#167516" stroke-width="4.6" stroke-linejoin="round" stroke-linecap="butt"/>
<polyline points="274.0,71.0 277.5,70.8 281.1,70.7 284.6,70.6 288.1,70.4 291.6,70.2 295.0,70.0 298.1,69.7 301.1,69.2 304.1,68.7 307.0,68.3 310.0,68.0 313.0,68.0 315.9,68.2 318.9,68.7 321.8,69.3 324.8,70.0 327.8,70.6 331.0,71.0 334.7,71.2 338.6,71.3 342.6,71.3 346.6,71.2 350.8,71.1 354.9,71.0 359.8,70.9 364.9,70.8 370.1,70.6 375.3,70.5 380.2,70.3 384.9,70.0 388.5,69.7 391.9,69.4 395.2,69.0 398.4,68.7 401.6,68.3 404.9,68.0 408.3,67.7 411.7,67.4 415.1,67.1 418.4,66.8 421.7,66.4 424.9,66.0 427.6,65.5 430.2,65.0 432.8,64.5 435.4,63.9 438.1,63.4 440.9,63.0 444.6,62.6 448.6,62.3 452.7,62.0 456.9,61.8 461.0,61.7 464.9,61.6 468.3,61.6 471.5,61.6 474.7,61.7 478.0,61.8 481.3,61.9 484.9,62.0 489.6,62.0 494.6,61.9 499.9,61.8 505.1,61.7 510.1,61.8 514.9,62.0 518.4,62.4 521.8,62.9 525.1,63.4 528.3,64.0 531.5,64.6 534.8,65.0 538.1,65.3 541.4,65.5 544.7,65.7 548.0,65.8 551.4,65.9 554.8,66.0 558.7,66.0 562.7,66.0 566.8,65.9 570.8,65.8 574.9,65.7 578.8,65.6 582.3,65.5 585.7,65.5 589.1,65.5 592.5,65.4 596.1,65.2 600.0,65.0 605.9,64.4 612.4,63.6 619.2,62.6 626.2,61.6 633.1,60.7 640.0,60.0 646.7,59.5 653.5,59.0 660.3,58.7 667.0,58.4 673.6,58.2 679.9,58.0 685.3,57.8 690.5,57.6 695.6,57.5 700.5,57.4 705.3,57.4 709.9,57.6 713.5,57.8 716.9,58.2 720.2,58.6 723.4,59.0 726.6,59.5 729.9,60.0 733.2,60.6 736.4,61.3 739.6,62.0 742.9,62.6 746.3,63.2 749.9,63.6 754.5,63.7 759.3,63.6 764.2,63.3 769.3,63.0 774.6,62.6 779.9,62.4 786.4,62.3 793.3,62.3 800.4,62.4 807.3,62.4 813.9,62.3 819.9,62.0 823.5,61.6 826.9,61.1 830.0,60.6 833.1,60.0 836.4,59.4 839.8,59.0 844.5,58.5 849.5,58.1 854.7,57.7 859.8,57.4 864.9,57.2 869.8,57.0 873.9,56.9 877.9,56.8 881.8,56.8 885.7,56.8 889.7,56.9 893.8,57.0 898.9,57.1 904.2,57.3 909.6,57.6 915.0,57.8 920.1,58.1 925.0,58.4 928.5,58.6 931.7,58.9 934.8,59.2 938.0,59.5 941.3,59.8 945.0,60.0 950.9,60.2 957.5,60.4 964.5,60.5 971.5,60.5 978.5,60.5 984.9,60.4 990.2,60.3 995.3,60.1 1000.2,59.8 1005.1,59.6 1010.0,59.3 1014.9,59.0 1020.0,58.7 1025.0,58.3 1030.1,57.9 1035.1,57.6 1040.0,57.2 1044.9,57.0 1049.4,56.9 1054.0,56.8 1058.5,56.8 1062.9,56.8 1067.1,56.7 1070.9,56.4 1073.4,56.1 1075.7,55.6 1077.8,55.2 1080.0,54.7 1082.3,54.3 1084.9,54.0 1089.3,53.7 1094.4,53.5 1099.8,53.4 1105.2,53.4 1110.3,53.6 1114.9,54.0 1117.8,54.4 1120.5,55.0 1123.0,55.7 1125.5,56.4 1128.1,57.1 1130.9,57.6 1134.5,58.0 1138.4,58.4 1142.4,58.6 1146.5,58.8 1150.6,58.9 1154.8,59.0 1159.7,59.0 1164.7,59.0 1169.8,58.8 1175.0,58.7 1180.0,58.5 1184.8,58.4 1188.9,58.3 1192.9,58.3 1196.8,58.3 1200.6,58.3 1204.6,58.2 1208.8,58.0 1214.0,57.6 1219.5,57.1 1225.0,56.4 1230.7,55.8 1236.3,55.3 1241.9,54.9 1247.1,54.6 1252.3,54.5 1257.5,54.5 1262.8,54.5 1268.1,54.5 1273.7,54.4 1280.6,54.4 1288.0,54.2 1295.5,54.1 1302.9,54.1 1309.9,54.2 1316.2,54.4 1320.1,54.8 1323.8,55.2 1327.3,55.7 1330.6,56.2 1334.0,56.7 1337.4,57.0 1340.9,57.2 1344.2,57.3 1347.6,57.4 1351.0,57.4 1354.7,57.4 1358.7,57.4 1365.1,57.5 1372.3,57.5 1379.9,57.5 1387.5,57.5 1394.7,57.5 1401.1,57.4 1405.1,57.4 1408.7,57.4 1412.2,57.4 1415.6,57.3 1418.9,57.2 1422.4,57.0 1425.8,56.6 1429.2,56.1 1432.5,55.5 1436.0,54.8 1439.6,54.3 1443.6,53.8 1449.9,53.3 1456.9,53.0 1464.3,52.8 1471.8,52.6 1479.2,52.5 1486.1,52.3 1491.6,52.2 1497.0,52.0 1502.3,51.9 1507.5,51.8 1512.7,51.7 1517.9,51.7 1523.2,51.6 1528.5,51.6 1533.8,51.6 1539.2,51.7 1544.5,51.7 1549.8,51.7" fill="none" stroke="#167516" stroke-width="4.6" stroke-linejoin="round" stroke-linecap="butt"/>
<polyline points="274.0,666.8 275.1,667.9 276.1,669.7 277.1,670.7 278.2,671.9 279.3,673.0 280.4,673.5 282.0,672.7 283.7,671.5 285.4,669.8 287.2,668.3 289.0,666.4 290.7,664.8 292.3,663.3 293.8,661.8 295.3,660.8 296.9,659.9 298.4,659.1 300.0,658.0 301.7,657.3 303.4,656.0 305.1,654.5 306.8,653.5 308.4,652.2 310.0,651.0 311.2,650.9 312.4,650.3 313.5,649.9 314.6,649.5 315.7,649.8 316.6,649.6 317.7,650.8 318.6,652.1 319.4,654.7 320.1,656.8 320.8,659.0 321.6,661.7 322.5,663.7 323.4,665.8 324.3,667.9 325.1,670.3 325.9,673.0 326.6,674.7 327.0,677.1 327.4,678.1 327.7,680.2 328.0,682.0 328.3,684.5 328.5,686.3 328.7,688.6 329.0,691.0 329.2,693.2 329.4,695.2 329.7,697.7 329.9,699.9 330.1,702.3 330.3,704.7 330.5,703.5 330.7,706.9 330.9,708.5 331.0,709.3 331.2,711.9 331.4,714.2 331.6,716.7 331.8,719.4 331.9,719.9 332.1,721.2 332.3,723.5 332.5,725.6 332.7,727.5 332.8,729.4 333.0,732.0 333.2,733.3 333.4,735.0 333.6,736.1 333.8,739.0 333.9,740.6 334.1,742.1 334.3,744.3 334.5,745.4 334.7,747.5 334.9,749.0 335.1,750.0 335.3,752.9 335.5,754.5 335.6,757.0 335.8,759.2 336.0,759.6 336.2,762.2 336.3,764.7 336.5,767.1 336.7,767.8 336.8,769.6 337.0,771.3 337.1,773.6 337.3,776.1 337.5,777.1 337.6,780.3 337.8,780.7 337.9,782.3 338.1,784.1 338.2,785.9 338.3,788.9 338.5,789.4 338.6,792.3 338.7,794.0 338.8,795.6 338.9,797.3 339.0,800.5 339.1,801.8 339.1,804.2 339.2,805.4 339.2,808.3 339.2,808.8 339.3,811.3 339.3,811.4 339.3,814.6 339.3,815.4 339.3,818.4 339.3,819.4 339.3,821.9 339.3,823.4 339.3,823.3 339.4,825.9 339.4,828.4 339.4,828.9 339.4,830.8 339.4,833.9 339.4,834.0 339.4,834.5 339.4,837.6 339.4,837.9 339.4,841.4 339.5,844.1 339.5,844.1 339.6,846.8 339.6,847.4 339.7,850.5 339.7,852.3 339.8,853.5 339.8,856.1 339.9,856.5 340.0,859.4 340.0,860.1 340.1,863.3 340.2,864.3 340.3,864.7 340.3,867.1 340.4,868.1 340.5,870.0 340.6,871.8 340.7,873.2 340.8,875.1 340.9,877.7 341.1,877.9 341.2,881.0 341.3,883.1 341.5,886.2 341.7,887.6 341.9,888.1 342.0,892.3 342.2,892.9 342.4,896.4 342.6,898.2 342.8,901.6 343.1,901.2 343.3,904.1 343.6,906.3 343.9,910.0 344.3,911.1 344.7,913.4 345.4,916.0 346.0,918.3 346.7,919.9 347.6,922.3 348.6,923.8 349.9,925.1 351.6,928.0 353.6,929.8 355.9,930.6 358.2,932.6 360.6,933.0 362.7,934.3 364.5,935.6 366.2,937.0 367.9,936.8 369.6,937.8 371.3,938.4 373.0,937.6 374.7,938.8 376.4,938.7 378.0,940.6 379.7,940.9 381.5,940.0 383.3,939.2 385.8,939.6 388.5,938.6 391.3,938.7 394.0,937.8 396.5,938.6 398.8,936.8 400.0,937.1 401.2,936.0 402.2,934.9 403.3,935.4 404.2,935.0 405.2,936.5 406.4,935.7 407.4,938.6 408.4,941.2 409.4,942.9 410.4,944.3 411.6,948.3 413.0,948.7 414.6,950.2 416.3,951.2 417.9,951.4 419.4,952.1 420.6,953.5 421.5,952.7 422.3,951.7 422.9,949.1 423.4,947.3 423.9,945.3 424.5,943.0 425.2,940.8 425.9,937.0 426.6,935.9 427.2,932.3 427.5,931.6 427.8,930.9 428.0,926.1 428.3,926.7 428.7,923.0 429.0,921.6 429.3,919.4 429.7,917.5 430.0,914.3 430.3,913.3 430.6,911.5 430.9,908.6 431.2,906.4 431.5,904.3 431.9,903.4 432.2,899.8 432.5,897.3 432.8,896.1 433.1,893.8 433.5,893.1 433.8,892.1 434.1,889.6 434.4,888.1 434.8,886.2 435.1,885.2 435.4,883.6 435.7,881.3 436.1,880.3 436.4,877.7 436.7,875.8 437.0,873.5 437.3,872.2 437.6,870.7 437.9,868.8 438.3,868.0 438.6,866.0 438.9,864.6 439.2,863.6 439.6,860.6 439.9,858.7 440.3,856.9 440.7,854.7 441.1,852.5 441.5,850.5 442.0,848.1 442.4,845.9 442.8,843.5 443.3,841.3 443.7,839.5 444.2,837.4 444.6,835.3 445.1,833.2 445.5,831.3 445.9,829.6 446.3,827.5 446.7,826.4 447.1,824.3 447.6,822.6 448.0,820.8 448.4,819.3 448.9,817.4 449.3,815.7 449.8,814.2 450.2,812.5 451.0,809.7 451.8,807.0 452.6,804.7 453.4,802.0 454.4,799.8 455.4,797.1 456.5,794.5 457.7,792.0 459.1,789.6 460.4,786.8 461.8,784.3 463.1,781.8 464.3,779.2 465.6,776.8 466.8,774.7 468.1,771.8 469.4,768.8 470.8,765.7 471.6,764.9 472.4,763.4 473.3,761.9 474.1,760.0 475.0,758.9 475.9,757.5 476.8,755.9 477.7,754.4 478.6,752.6 479.5,751.3 480.3,750.1 481.1,747.9 482.4,745.7 483.7,742.6 484.9,740.2 486.2,737.7 487.4,735.4 488.8,732.6 490.0,731.0 491.3,729.6 492.5,728.2 493.9,726.8 495.2,725.2 496.5,723.2 498.2,721.2 499.9,718.5 500.8,717.3 501.7,715.8 502.5,714.5 503.4,712.6 505.1,710.4 506.8,708.5 508.2,706.1 509.5,703.9 510.8,701.6 512.1,699.4 513.3,698.4 514.5,697.8 515.5,698.1 516.4,698.7 517.2,700.3 518.1,702.5 518.9,704.0 519.7,705.5 520.6,707.3 521.6,709.4 522.5,711.7 523.3,714.0 524.1,716.0 524.8,718.4 525.1,719.8 525.5,721.6 525.7,723.5 526.0,725.3 526.1,726.8 526.3,728.8 526.5,731.1 526.6,732.2 526.8,734.7 527.0,736.6 527.2,739.0 527.4,740.8 527.6,742.3 527.8,743.8 528.0,745.6 528.2,747.1 528.4,748.7 528.6,750.0 528.8,752.0 529.1,753.8 529.3,755.5 529.5,757.5 529.7,759.2 529.9,760.8 530.2,763.0 530.4,763.8 530.6,766.3 530.8,767.8 531.0,769.6 531.2,771.4 531.5,773.8 531.7,775.9 531.9,778.3 532.1,779.5 532.3,780.7 532.4,782.9 532.6,784.5 532.8,785.9 532.9,787.7 533.1,789.4 533.2,791.1 533.4,792.6 533.6,794.1 533.7,796.5 533.9,797.2 534.0,799.5 534.2,800.0 534.3,802.6 534.5,803.5 534.7,806.5 534.9,808.0 535.1,810.0 535.3,811.9 535.6,814.5 535.8,816.6 536.0,819.2 536.2,821.1 536.4,823.3 536.7,824.8 536.9,826.9 537.1,829.2 537.3,831.2 537.5,833.9 537.7,835.8 537.8,837.9 538.0,840.0 538.1,841.9 538.2,843.4 538.3,845.2 538.5,846.6 538.6,848.7 538.7,849.8 538.8,851.5 538.9,853.3 539.0,854.6 539.1,856.8 539.2,858.6 539.3,859.8 539.4,861.5 539.5,863.4 539.6,864.6 539.7,867.0 539.8,868.2 539.9,870.2 540.1,872.6 540.2,874.0 540.4,875.4 540.5,878.4 540.6,878.7 540.8,881.9 540.9,883.1 541.0,885.2 541.2,887.5 541.3,888.6 541.4,890.1 541.6,891.9 541.7,893.8 541.8,894.9 542.0,897.0 542.1,898.2 542.3,900.5 542.5,901.2 542.6,904.2 542.8,905.0 543.0,906.5 543.2,908.5 543.3,910.7 543.5,912.0 543.7,913.8 543.9,914.3 544.2,917.2 544.5,920.2 544.8,921.1 545.1,924.0 545.5,925.6 545.8,929.0 546.3,930.9 546.7,932.3 547.1,936.2 547.5,937.3 548.0,940.5 548.5,942.2 549.0,944.1 549.5,947.6 550.1,949.7 550.6,950.5 551.2,952.6 551.8,955.2 552.5,957.7 553.1,959.7 554.2,961.8 555.4,965.3 556.6,968.5 557.9,969.9 559.3,972.6 560.8,974.0 562.4,977.8 564.0,978.9 565.8,980.8 567.6,982.0 569.4,982.8 571.1,983.4 572.4,984.3 573.7,982.3 575.0,982.4 576.3,982.6 577.5,980.9 578.8,978.7 580.5,979.3 582.3,976.5 584.0,975.5 585.8,972.6 587.5,971.5 589.1,969.7 590.4,968.3 591.7,967.3 592.9,965.1 594.2,965.1 595.5,964.0 596.8,960.8 598.3,960.0 599.8,959.7 601.5,958.0 603.0,958.0 604.5,958.4 605.8,957.9 606.8,958.9 607.7,959.6 608.5,960.9 609.3,962.4 610.1,963.5 611.0,964.8 611.8,965.4 612.7,964.7 613.6,965.0 614.5,963.5 615.4,963.0 616.1,963.2 617.1,962.8 617.8,959.7 618.4,959.1 618.9,955.5 619.5,953.7 620.0,951.8 620.4,949.7 620.7,947.8 621.1,946.0 621.4,944.1 621.7,941.8 622.0,939.2 622.3,936.9 622.6,934.6 622.9,932.6 623.2,930.1 623.5,928.1 623.8,925.7 624.2,924.0 624.5,921.5 624.8,919.4 625.1,917.1 625.4,914.3 625.7,912.9 626.0,910.4 626.4,907.9 626.7,905.7 627.0,904.0 627.4,902.0 627.7,899.7 628.0,898.5 628.3,897.0 628.9,893.9 629.5,890.8 630.2,888.4 630.8,885.3 631.6,882.6 632.0,880.6 632.4,878.3 632.9,877.0 633.3,875.5 633.8,873.6 634.3,871.6 634.8,869.4 635.3,867.4 635.8,865.9 636.3,864.1 636.7,861.7 637.2,859.6 637.6,858.0 637.9,856.7 638.3,854.8 638.6,852.8 638.9,851.3 639.3,848.7 639.6,847.0 639.9,845.1 640.3,842.9 640.6,841.1 641.0,839.4 641.3,837.4 641.7,835.1 642.1,833.4 642.5,831.5 642.9,829.1 643.4,828.1 643.8,825.9 644.5,823.4 645.1,821.7 645.9,819.4 646.6,817.1 647.4,815.0 648.2,812.4 649.0,811.5 649.8,809.1 650.6,806.6 651.5,804.5 652.3,802.7 653.1,800.5 653.8,799.7 654.6,797.4 655.4,795.8 656.1,793.9 656.9,792.5 657.7,791.0 658.5,789.1 659.3,787.7 660.0,786.4 660.8,784.7 661.6,782.4 662.4,781.4 663.3,779.4 664.1,776.9 664.9,774.9 665.8,772.8 666.6,770.5 667.5,768.1 668.3,766.5 669.2,764.4 670.1,761.8 671.0,759.8 672.0,758.3 673.0,755.7 674.0,753.9 675.0,752.1 676.1,750.6 677.2,749.0 678.3,747.1 679.4,745.5 680.6,743.9 681.7,742.2 682.9,740.6 684.0,739.1 685.2,737.2 686.3,736.0 687.4,733.9 688.5,732.4 689.5,730.7 690.6,728.9 691.6,727.2 692.7,725.4 693.8,724.0 694.9,722.2 696.0,720.2 697.1,719.1 698.4,717.8 699.6,715.8 701.0,714.9 702.3,712.3 703.9,710.7 705.4,708.8 706.9,707.2 708.5,705.7 710.1,704.2 711.6,702.8 713.0,701.1 714.4,700.5 716.8,700.2 718.1,700.5 719.3,701.4 720.4,702.6 721.3,704.1 722.3,706.4 723.2,708.0 723.7,709.6 724.2,711.5 724.7,713.1 725.1,714.5 725.6,716.6 726.0,718.2 726.2,720.3 726.5,721.5 726.8,723.7 727.0,725.4 727.3,726.6 727.5,728.4 727.7,730.2 727.9,732.0 728.1,733.7 728.3,735.8 728.6,736.9 728.8,738.9 729.0,741.4 729.2,742.6 729.4,743.4 729.6,746.2 729.9,747.6 730.1,750.6 730.4,751.6 730.6,754.5 730.9,756.8 731.1,758.5 731.3,760.6 731.5,762.4 731.7,764.4 731.9,766.5 732.0,767.6 732.2,769.5 732.3,770.9 732.4,772.6 732.6,774.2 732.7,776.0 732.9,777.8 733.0,779.2 733.2,780.7 733.3,783.0 733.5,784.4 733.6,786.2 733.7,788.0 733.9,789.4 734.0,790.9 734.1,792.5 734.3,794.0 734.4,796.1 734.6,797.5 734.7,799.2 734.8,801.0 735.0,803.0 735.1,804.8 735.2,806.6 735.4,807.9 735.5,810.3 735.6,811.9 735.7,813.6 735.9,815.7 736.0,817.3 736.1,818.6 736.2,820.3 736.4,822.3 736.5,823.9 736.6,825.4 736.7,828.0 736.9,829.5 737.0,830.9 737.1,832.5 737.2,833.6 737.3,835.5 737.4,837.5 737.6,839.4 737.7,841.0 737.8,842.3 737.9,844.4 738.0,845.9 738.1,847.2 738.2,849.1 738.4,850.9 738.5,853.2 738.6,855.7 738.8,857.8 738.9,859.8 739.1,861.8 739.2,863.6 739.3,865.8 739.5,868.0 739.6,870.1 739.7,871.9 739.9,874.3 740.0,875.4 740.1,877.5 740.2,879.0 740.3,880.7 740.4,882.6 740.5,884.1 740.6,885.6 740.7,887.3 740.8,888.8 740.9,890.5 741.0,892.2 741.1,893.9 741.2,895.5 741.3,897.0 741.4,898.5 741.5,900.4 741.6,901.8 741.7,903.4 741.8,904.6 741.9,906.3 742.1,908.7 742.3,910.4 742.5,913.5 742.6,914.8 742.8,916.8 743.0,918.9 743.1,920.8 743.3,923.0 743.5,924.8 743.7,926.3 743.8,928.0 744.0,930.5 744.2,931.9 744.4,934.3 744.6,935.6 744.9,937.8 745.1,939.6 745.4,941.3 745.7,943.0 746.0,945.2 746.3,946.1 746.7,948.0 747.2,950.1 747.6,952.0 748.0,953.9 748.5,955.8 749.0,957.1 749.6,959.0 750.1,960.4 750.7,962.1 751.3,963.5 752.0,964.9 752.7,967.3 754.2,969.8 755.0,971.7 755.7,972.6 756.6,974.2 757.4,975.6 759.2,977.8 761.1,979.7 763.0,981.6 764.6,981.4 766.4,981.3 768.1,981.0 769.9,980.2 771.6,979.5 773.3,978.2 775.1,977.9 776.7,976.4 778.4,975.0 780.0,973.0 781.7,972.1 783.6,970.6 785.9,969.6 788.4,968.5 791.0,967.3 793.7,965.8 796.4,965.6 799.1,964.5 800.6,963.6 802.1,963.0 803.8,962.9 805.5,961.3 807.2,961.4 808.9,960.6 810.5,959.8 812.1,959.3 814.9,958.6 817.1,956.2 818.0,955.8 818.7,955.2 819.4,954.8 819.9,953.3 820.4,953.0 820.9,951.5 821.8,949.0 822.2,947.4 822.5,945.7 822.8,944.1 823.1,942.4 823.4,940.2 823.7,938.2 823.9,936.6 824.2,934.4 824.5,932.9 824.8,930.9 825.1,928.7 825.4,926.4 825.8,924.6 826.1,922.7 826.4,920.5 826.7,917.9 827.0,916.2 827.4,914.2 827.7,911.7 828.0,909.6 828.3,907.1 828.6,905.3 828.9,902.9 829.3,900.9 829.6,898.7 829.9,896.9 830.2,894.3 830.5,892.7 830.8,890.2 831.1,887.8 831.4,886.1 831.8,883.7 832.1,881.7 832.5,879.4 832.9,877.3 833.3,875.1 833.7,873.3 834.1,870.8 834.5,868.8 834.9,866.5 835.4,864.3 835.8,862.1 836.3,859.3 836.7,857.7 837.2,855.7 837.6,853.9 838.0,851.9 838.4,850.8 839.2,847.6 840.0,844.5 840.9,841.4 841.8,838.9 842.8,835.9 843.4,834.2 843.9,832.3 844.6,830.7 845.2,829.3 845.9,827.3 846.5,825.4 847.2,823.9 847.9,822.2 848.5,820.5 849.2,818.3 849.9,816.6 850.5,815.2 851.1,813.2 851.8,811.0 852.3,809.8 852.9,807.3 853.5,805.2 854.1,803.5 854.7,801.2 855.3,799.6 856.0,797.1 856.6,795.2 857.4,793.7 858.2,792.0 859.7,789.8 861.4,786.9 863.2,785.7 865.0,783.3 866.7,780.8 868.3,778.7 869.8,775.8 871.2,774.1 872.5,771.1 873.8,768.1 875.1,765.8 876.6,763.1 878.2,760.8 879.8,758.2 881.4,755.3 883.1,752.6 884.9,750.5 886.6,748.1 888.3,745.4 890.1,742.9 891.9,740.9 893.7,738.2 895.5,736.5 897.3,733.8 899.1,731.5 900.9,729.6 902.7,726.8 904.5,724.7 906.3,721.6 908.1,720.1 909.8,717.5 911.6,715.5 913.4,713.0 915.1,710.7 916.7,709.3 918.1,708.7 919.1,709.4 920.0,710.7 920.8,712.1 921.6,713.8 922.3,715.8 923.0,717.1 923.7,719.0 924.3,720.3 924.9,721.8 925.4,723.2 925.9,724.7 926.4,726.4 926.9,729.6 927.4,731.2 927.8,733.7 928.1,737.2 928.5,739.4 928.9,742.0 929.3,744.9 929.8,747.8 930.2,750.3 930.6,753.5 931.0,756.1 931.4,758.5 931.7,761.9 932.0,765.1 932.3,768.1 932.4,769.5 932.5,771.1 932.6,773.3 932.8,774.8 932.9,776.5 933.0,778.8 933.1,780.5 933.2,782.8 933.3,784.6 933.4,786.5 933.5,788.4 933.6,790.5 933.6,792.1 933.7,794.1 933.8,796.2 933.9,798.0 933.9,799.4 934.0,801.0 934.0,802.7 934.1,804.1 934.2,806.4 934.2,808.1 934.3,809.4 934.4,811.0 934.4,813.0 934.5,814.6 934.5,816.9 934.6,818.3 934.7,819.7 934.7,821.7 934.8,822.9 934.9,825.0 934.9,826.7 935.0,828.3 935.1,830.2 935.2,831.9 935.3,833.8 935.4,835.9 935.5,837.0 935.6,838.9 935.7,840.7 935.8,842.6 935.9,843.7 936.0,845.6 936.1,847.5 936.2,849.2 936.3,851.1 936.4,853.7 936.6,855.7 936.7,857.5 936.8,860.2 937.0,861.8 937.1,863.8 937.3,866.2 937.4,868.1 937.6,870.2 937.8,872.3 938.0,874.2 938.1,876.1 938.2,877.6 938.4,878.7 938.5,881.1 938.7,882.0 938.8,883.7 938.9,885.8 939.1,887.4 939.2,889.0 939.4,890.7 939.5,892.0 939.7,894.0 939.9,895.9 940.0,897.2 940.2,898.6 940.4,900.4 940.5,901.7 940.7,903.5 940.9,905.3 941.1,906.8 941.3,908.8 941.6,910.8 941.8,912.6 942.1,914.7 942.3,916.8 942.6,918.3 942.8,920.9 943.1,922.5 943.3,924.3 943.6,926.4 943.9,928.0 944.2,930.0 944.4,932.0 944.7,933.8 945.0,935.7 945.3,937.8 945.6,939.4 946.0,940.9 946.3,942.7 946.6,944.8 947.0,946.2 947.4,948.5 947.9,950.6 948.4,953.1 948.8,955.3 949.3,957.6 949.8,959.5 950.4,961.3 950.9,963.6 951.5,966.3 952.1,968.2 952.7,970.0 953.4,972.5 954.1,974.8 954.8,976.5 955.3,978.4 955.8,980.0 956.3,981.2 956.8,983.0 957.3,984.3 957.8,986.4 958.7,988.7 959.5,990.6 960.5,992.2 961.5,994.7 963.7,996.3 965.2,997.1 966.8,997.2 968.5,997.3 970.3,997.4 972.1,997.1 974.0,996.3 976.4,996.1 978.9,995.4 981.4,993.5 984.1,992.2 986.7,991.6 989.4,990.1 992.4,988.8 993.9,988.3 995.5,987.8 997.0,987.5 998.6,986.6 1000.2,986.1 1001.7,985.6 1004.7,984.5 1007.4,983.5 1009.4,983.0 1011.3,983.3 1013.1,983.5 1014.8,982.4 1016.4,982.0 1017.7,980.7 1018.9,979.3 1019.8,976.8 1020.3,974.3 1020.7,970.5 1020.9,969.2 1021.1,967.8 1021.3,965.7 1021.6,964.1 1021.9,962.2 1022.3,960.5 1022.6,958.6 1022.9,956.3 1023.2,954.4 1023.5,952.4 1023.8,950.3 1024.1,948.3 1024.5,945.3 1024.8,943.2 1025.1,941.1 1025.4,939.1 1025.7,936.2 1026.0,934.8 1026.2,932.3 1026.4,930.6 1026.6,929.2 1026.8,927.5 1027.1,926.4 1027.3,924.1 1027.5,922.8 1027.7,920.6 1027.9,919.3 1028.1,917.9 1028.3,915.9 1028.5,914.2 1028.7,912.9 1029.0,911.3 1029.2,909.3 1029.4,907.8 1029.6,906.3 1029.9,904.3 1030.3,902.0 1030.6,900.0 1031.0,897.7 1031.4,895.4 1031.8,893.6 1032.2,891.0 1032.6,889.3 1033.1,886.3 1033.5,884.6 1034.0,882.6 1034.4,880.0 1034.8,878.6 1035.3,876.1 1035.7,874.4 1036.1,872.2 1036.5,869.9 1036.9,868.0 1037.2,866.0 1037.6,864.2 1038.0,861.7 1038.4,859.4 1038.8,857.8 1039.3,855.4 1039.7,853.0 1040.3,851.0 1040.9,849.1 1041.4,846.9 1042.0,845.2 1042.5,843.3 1043.2,841.7 1043.8,839.5 1044.5,838.2 1045.2,835.8 1045.9,833.8 1046.6,831.5 1047.3,829.8 1048.1,827.9 1048.8,826.1 1049.5,824.5 1050.2,822.8 1050.9,820.6 1051.5,818.6 1052.1,817.2 1052.7,814.9 1053.4,812.6 1054.1,810.8 1054.7,809.0 1055.3,806.9 1055.9,804.5 1056.5,802.1 1057.1,799.8 1057.6,798.3 1058.2,795.9 1058.8,794.6 1059.4,791.9 1060.0,790.0 1060.5,788.5 1061.0,787.0 1061.5,784.9 1062.1,783.3 1062.6,781.5 1063.1,779.9 1063.6,778.6 1064.1,777.1 1065.3,774.0 1066.6,771.7 1067.8,769.1 1069.2,767.0 1070.6,765.6 1072.0,763.8 1073.5,761.4 1074.9,760.0 1076.5,757.4 1078.1,754.4 1079.8,751.9 1081.4,749.0 1083.1,746.5 1084.9,743.9 1086.7,741.7 1088.6,738.4 1090.6,736.4 1092.5,733.4 1094.5,731.2 1096.5,729.2 1098.4,726.9 1100.3,724.3 1102.3,722.7 1104.2,720.5 1106.2,718.5 1108.1,716.5 1109.8,715.2 1111.7,713.3 1113.5,711.9 1115.2,711.1 1116.8,709.5 1118.0,708.3 1118.6,707.6 1119.0,706.6 1119.4,705.4 1119.7,704.7 1120.1,704.4 1120.5,703.8 1121.2,704.7 1121.9,705.8 1122.6,707.5 1123.3,709.5 1124.0,711.6 1124.7,713.2 1125.3,715.0 1125.9,716.5 1126.5,717.7 1127.0,719.5 1127.5,721.5 1128.0,723.0 1128.6,725.8 1129.2,728.4 1129.8,730.8 1130.3,734.1 1130.8,737.3 1131.3,739.9 1131.5,741.0 1131.8,742.9 1132.0,744.2 1132.2,746.8 1132.5,748.4 1132.7,750.2 1132.9,751.3 1133.1,753.7 1133.2,755.6 1133.4,757.1 1133.6,758.5 1133.8,760.5 1134.1,763.7 1134.4,766.0 1134.7,768.7 1135.0,771.6 1135.3,774.6 1135.5,777.1 1135.7,778.9 1135.8,781.0 1135.9,782.9 1136.0,785.1 1136.2,787.3 1136.3,790.3 1136.4,791.9 1136.5,793.8 1136.6,795.5 1136.6,797.1 1136.7,799.0 1136.8,801.9 1136.8,803.0 1136.9,805.1 1137.0,806.8 1137.1,808.7 1137.1,810.4 1137.2,812.0 1137.2,813.9 1137.3,815.4 1137.4,817.7 1137.4,819.3 1137.5,821.2 1137.6,822.8 1137.7,825.0 1137.7,826.6 1137.8,827.9 1137.9,830.2 1138.0,832.5 1138.1,833.9 1138.1,835.3 1138.2,837.2 1138.3,838.9 1138.4,841.1 1138.5,842.8 1138.7,844.7 1138.8,846.7 1138.9,848.8 1139.0,850.5 1139.2,852.3 1139.3,853.8 1139.4,855.7 1139.6,857.3 1139.7,858.2 1139.9,860.7 1140.0,862.1 1140.2,863.9 1140.4,865.3 1140.5,867.3 1140.7,868.5 1140.9,870.8 1141.2,872.7 1141.4,875.1 1141.6,877.0 1141.8,879.0 1142.1,881.2 1142.3,883.1 1142.5,884.9 1142.7,886.9 1143.0,889.3 1143.2,890.8 1143.4,892.5 1143.6,895.2 1143.8,896.8 1144.0,898.5 1144.2,900.3 1144.4,902.3 1144.6,903.7 1144.8,905.9 1145.0,907.3 1145.2,909.3 1145.5,911.5 1145.7,913.3 1145.9,915.3 1146.1,917.0 1146.4,918.3 1146.6,920.7 1146.9,922.8 1147.1,925.2 1147.4,926.6 1147.6,928.4 1147.9,930.7 1148.1,932.4 1148.4,935.0 1148.7,937.1 1148.9,939.0 1149.2,940.8 1149.5,943.2 1149.8,945.4 1150.1,947.2 1150.4,949.1 1150.7,951.1 1151.1,953.6 1151.4,954.5 1151.8,956.5 1152.2,958.3 1152.6,960.9 1153.1,963.1 1153.5,965.5 1154.0,966.9 1154.4,969.3 1154.9,971.2 1155.5,973.1 1156.1,975.5 1156.7,976.4 1157.4,978.1 1158.2,980.0 1159.4,982.1 1160.8,984.0 1162.3,986.0 1163.8,987.0 1165.5,988.3 1167.2,989.1 1169.0,989.2 1170.8,988.8 1172.8,987.5 1174.8,987.1 1176.8,985.9 1178.8,984.8 1180.9,984.1 1183.0,982.5 1185.1,981.1 1187.3,979.6 1189.4,978.1 1191.6,977.3 1193.7,975.9 1195.9,975.2 1198.0,974.9 1200.2,973.6 1202.3,973.9 1204.5,973.6 1206.7,973.2 1209.2,974.6 1211.6,975.1 1213.8,976.0 1215.8,976.8 1217.3,976.1 1218.2,975.0 1218.8,974.1 1219.1,972.3 1219.4,970.7 1219.6,968.7 1219.9,966.9 1220.2,965.6 1220.6,963.7 1220.9,961.4 1221.2,959.9 1221.6,957.7 1221.9,956.4 1222.2,953.5 1222.5,952.3 1222.8,950.3 1223.1,948.0 1223.5,946.3 1223.8,943.3 1224.1,941.7 1224.4,939.6 1224.7,937.8 1225.0,935.3 1225.3,933.1 1225.7,930.8 1226.0,928.9 1226.3,926.8 1226.6,924.6 1226.9,922.5 1227.3,920.3 1227.6,918.2 1228.0,915.6 1228.4,913.6 1228.7,912.1 1229.0,910.4 1229.2,909.0 1229.5,906.5 1229.8,905.4 1230.1,903.9 1230.4,901.9 1230.7,900.6 1231.0,898.6 1231.4,897.0 1231.9,893.9 1232.3,892.0 1232.8,890.2 1233.2,887.6 1233.6,885.6 1234.0,884.7 1234.4,882.1 1234.8,880.2 1235.2,878.1 1235.7,876.2 1236.1,874.4 1236.5,873.0 1237.0,870.9 1237.5,868.6 1237.9,866.7 1238.3,865.0 1238.7,863.3 1239.1,861.5 1239.5,860.1 1239.9,858.4 1240.3,856.7 1240.7,855.1 1241.2,853.0 1241.6,851.3 1242.0,849.6 1242.5,847.9 1242.9,845.9 1243.4,844.3 1243.8,842.5 1244.3,840.7 1244.7,838.8 1245.2,837.3 1245.6,835.2 1246.3,833.6 1246.9,831.9 1247.6,829.5 1248.2,827.9 1248.9,826.0 1249.6,824.2 1250.3,821.9 1251.0,820.1 1251.6,818.3 1252.2,816.3 1252.8,814.6 1253.4,812.7 1253.8,810.7 1254.3,808.3 1254.7,806.6 1255.1,805.1 1255.4,803.1 1255.8,800.5 1256.1,799.0 1256.5,796.9 1256.9,795.2 1257.3,793.5 1257.8,791.2 1258.3,789.9 1259.3,787.5 1260.3,785.3 1261.4,783.5 1262.6,781.3 1263.7,779.4 1264.9,777.0 1266.2,774.1 1267.6,771.1 1269.0,768.4 1270.4,765.9 1271.8,763.1 1273.2,760.4 1274.6,758.1 1275.9,756.0 1277.3,753.4 1278.7,751.0 1280.1,749.0 1281.5,746.4 1282.8,744.0 1284.1,741.5 1285.4,738.7 1286.7,736.1 1288.2,734.1 1289.8,731.3 1291.6,729.5 1293.6,727.7 1295.8,725.6 1297.9,723.6 1300.1,722.5 1302.2,720.8 1304.0,719.5 1305.9,718.0 1307.7,717.2 1309.5,715.1 1311.3,713.9 1313.0,712.9 1314.6,712.3 1316.3,709.9 1317.9,708.0 1319.5,706.8 1320.9,705.3 1322.2,705.1 1323.2,705.0 1324.1,707.0 1324.9,708.0 1325.7,710.5 1326.4,711.6 1327.1,713.6 1327.8,715.4 1328.4,716.6 1329.0,718.0 1329.6,719.7 1330.1,721.2 1330.5,723.4 1330.9,725.8 1331.3,728.2 1331.5,731.1 1331.7,734.0 1331.9,736.6 1332.1,739.8 1332.2,741.2 1332.4,742.7 1332.5,744.6 1332.7,746.5 1332.8,748.4 1333.0,750.1 1333.1,751.7 1333.2,753.2 1333.4,755.7 1333.5,756.8 1333.7,759.0 1333.8,760.5 1333.9,762.2 1334.1,764.4 1334.2,765.6 1334.4,767.4 1334.5,769.6 1334.6,771.8 1334.8,773.7 1334.9,775.1 1335.0,776.5 1335.1,778.7 1335.4,781.2 1335.6,783.0 1335.7,784.3 1335.8,786.0 1336.0,786.6 1336.1,788.8 1336.3,789.9 1336.6,792.6 1336.9,795.0 1337.0,797.2 1337.2,799.6 1337.4,799.4 1337.5,800.7 1337.7,804.8 1337.9,805.5 1338.1,808.0 1338.2,809.6 1338.4,811.7 1338.5,813.0 1338.7,816.1 1338.8,817.2 1339.0,819.1 1339.1,820.1 1339.2,822.3 1339.3,823.9 1339.5,826.0 1339.6,827.2 1339.7,830.3 1339.9,831.2 1340.0,831.5 1340.1,834.2 1340.3,835.4 1340.4,837.8 1340.5,839.5 1340.7,842.2 1340.8,843.8 1340.9,844.9 1341.1,847.7 1341.2,849.0 1341.3,850.9 1341.5,853.7 1341.6,853.7 1341.7,856.2 1341.8,857.4 1342.0,859.7 1342.1,861.7 1342.2,862.4 1342.4,865.9 1342.5,867.1 1342.6,867.7 1342.7,871.7 1342.9,872.3 1343.0,874.0 1343.1,875.1 1343.2,876.9 1343.3,878.8 1343.5,879.3 1343.6,882.6 1343.7,884.5 1343.8,885.6 1344.0,887.5 1344.1,889.8 1344.2,891.1 1344.3,893.4 1344.5,893.5 1344.6,895.5 1344.7,898.0 1344.8,899.7 1345.0,901.4 1345.1,902.3 1345.2,904.4 1345.4,906.0 1345.5,908.3 1345.7,909.3 1345.8,910.6 1346.0,913.3 1346.1,913.0 1346.3,916.5 1346.4,919.1 1346.6,920.1 1346.7,921.5 1346.9,923.2 1347.1,923.8 1347.2,926.6 1347.4,929.2 1347.6,931.0 1347.7,933.3 1347.9,932.8 1348.1,935.5 1348.2,937.4 1348.4,938.9 1348.6,939.7 1348.8,942.9 1348.9,944.6 1349.1,946.7 1349.3,948.9 1349.5,949.6 1349.6,950.3 1349.8,953.4 1350.0,955.5 1350.2,956.2 1350.4,958.6 1350.6,958.9 1350.7,960.4 1350.9,964.1 1351.1,963.9 1351.3,965.9 1351.5,967.7 1351.7,969.8 1351.8,971.4 1352.0,973.4 1352.2,974.6 1352.3,976.1 1352.5,978.0 1352.7,979.6 1352.8,981.6 1353.0,983.8 1353.2,985.2 1353.4,986.9 1353.6,987.7 1353.7,991.3 1353.9,991.7 1354.3,994.9 1354.6,995.5 1354.9,997.7 1355.4,998.4 1355.8,1002.0 1356.3,1002.9 1356.8,1004.2 1357.3,1006.6 1357.9,1008.1 1358.5,1008.9 1359.1,1010.6 1359.7,1013.0 1361.1,1016.1 1362.5,1017.6 1364.0,1020.4 1365.6,1018.1 1367.3,1016.4 1369.1,1012.5 1370.0,1012.8 1370.9,1012.2 1371.8,1010.6 1372.7,1009.1 1374.3,1005.7 1375.5,1003.9 1376.6,1000.9 1377.8,1000.5 1378.8,998.9 1379.8,996.2 1380.7,996.2 1381.6,996.4 1381.9,1000.1 1382.3,1000.7 1382.6,1003.6 1382.9,1004.6 1383.1,1007.5 1383.4,1008.8 1383.9,1010.5 1384.5,1012.7 1385.2,1013.3 1385.8,1010.0 1386.1,1006.7 1386.4,1005.6 1386.8,1004.0 1387.2,1000.3 1387.7,999.3 1388.2,996.1 1389.0,994.6 1389.7,993.6 1390.7,991.2 1391.7,989.2 1392.9,987.9 1394.1,986.0 1395.4,984.7 1396.8,983.1 1398.2,982.2 1399.6,978.9 1401.1,979.2 1402.5,978.2 1405.3,977.1 1407.5,976.7 1409.8,978.0 1412.2,978.7 1414.4,980.1 1416.4,980.0 1418.2,980.2 1419.7,978.1 1420.8,975.5 1421.2,973.0 1421.5,971.3 1421.8,969.7 1422.1,967.1 1422.4,965.1 1422.6,962.9 1423.0,961.2 1423.3,960.0 1423.8,957.4 1424.2,954.5 1424.6,952.5 1425.1,949.8 1425.4,948.7 1425.7,947.2 1425.9,945.1 1426.2,943.7 1426.5,942.5 1426.8,940.8 1427.1,938.8 1427.3,937.1 1427.6,935.5 1427.9,934.2 1428.2,932.6 1428.4,930.8 1428.7,928.9 1429.0,927.6 1429.3,925.8 1429.6,923.9 1429.9,922.4 1430.2,920.5 1430.4,918.9 1430.7,917.2 1431.0,915.4 1431.3,914.0 1431.6,911.7 1431.8,909.9 1432.1,908.6 1432.4,906.4 1432.7,905.4 1433.0,903.1 1433.3,902.0 1433.6,900.3 1434.0,897.7 1434.4,895.3 1434.9,893.6 1435.3,891.3 1435.7,889.3 1436.2,887.3 1436.6,885.2 1437.0,882.9 1437.5,880.9 1437.9,879.1 1438.3,876.4 1438.7,873.9 1439.0,872.6 1439.3,871.7 1439.6,869.0 1439.9,867.5 1440.2,866.0 1440.4,864.0 1440.7,862.3 1441.0,860.7 1441.3,858.8 1441.5,856.8 1441.8,855.2 1442.1,853.2 1442.4,851.6 1442.7,849.6 1443.0,848.1 1443.3,846.7 1443.6,845.2 1443.9,843.8 1444.3,841.8 1444.6,839.5 1445.0,837.7 1445.4,836.1 1445.8,834.6 1446.2,832.4 1446.6,831.1 1447.0,829.3 1447.5,827.2 1447.9,825.8 1448.5,824.3 1449.0,823.2 1450.1,820.1 1451.4,817.9 1452.7,814.9 1454.0,812.6 1455.4,810.5 1456.7,807.8 1457.6,805.4 1458.4,803.4 1459.2,801.5 1460.0,799.2 1460.8,797.1 1461.7,794.5 1462.5,792.6 1463.4,790.1 1464.2,788.2 1465.1,785.8 1466.1,784.2 1467.0,782.0 1468.0,779.5 1469.0,777.4 1470.0,775.5 1471.1,773.8 1472.2,772.0 1473.2,769.7 1474.4,768.1 1475.5,765.7 1476.6,764.5 1477.7,761.8 1478.8,760.1 1479.9,758.3 1480.9,757.2 1482.0,755.0 1483.0,753.0 1484.1,751.4 1485.1,749.8 1486.2,747.6 1487.3,745.8 1488.3,743.8 1489.4,742.6 1490.5,741.2 1491.6,739.4 1492.7,738.1 1494.5,736.5 1496.3,735.7 1498.1,733.9 1499.9,732.7 1501.6,731.3 1503.0,730.1 1504.1,729.3 1504.9,727.6 1505.6,726.0 1506.3,724.3 1507.1,722.3 1508.2,720.9 1510.0,718.6 1511.1,717.2 1512.2,716.1 1513.4,715.0 1514.6,713.4 1515.8,712.6 1517.0,711.6 1519.2,710.4 1521.0,709.9 1522.2,709.9 1523.2,711.0 1524.0,712.5 1524.8,714.2 1525.5,716.3 1526.2,718.3 1526.6,720.1 1527.0,722.2 1527.3,724.4 1527.5,726.4 1527.7,728.4 1527.8,731.3 1527.9,732.4 1528.0,734.2 1528.1,735.5 1528.1,737.5 1528.2,738.7 1528.3,741.1 1528.5,742.7 1528.6,743.8 1528.8,745.9 1529.0,747.7 1529.3,749.2 1529.5,751.4 1529.8,753.7 1530.1,756.2 1530.4,758.3 1530.6,759.4 1530.8,761.4 1531.0,763.0 1531.3,764.5 1531.5,766.0 1531.7,768.1 1532.0,769.4 1532.2,771.3 1532.4,772.7 1532.7,774.4 1532.9,776.1 1533.1,777.9 1533.3,779.5 1533.5,780.9 1533.7,782.9 1533.9,784.1 1534.1,785.6 1534.3,787.5 1534.5,788.8 1534.6,790.8 1534.9,792.5 1535.1,794.7 1535.3,797.0 1535.6,799.3 1535.8,800.7 1536.0,803.1 1536.2,805.7 1536.4,807.7 1536.6,809.8 1536.8,811.0 1536.9,812.8 1537.1,814.1 1537.2,816.2 1537.4,817.8 1537.5,819.8 1537.6,821.0 1537.8,822.9 1537.9,824.5 1538.0,826.4 1538.1,827.7 1538.2,829.2 1538.3,830.9 1538.4,833.1 1538.5,834.4 1538.6,836.3 1538.6,837.7 1538.7,839.5 1538.8,841.5 1538.9,843.2 1538.9,845.1 1539.0,846.3 1539.1,848.6 1539.2,849.6 1539.2,851.3 1539.3,853.5 1539.4,855.0 1539.5,856.7 1539.5,858.9 1539.6,860.4 1539.7,862.4 1539.8,864.3 1539.9,866.0 1540.0,867.1 1540.0,869.2 1540.1,870.8 1540.2,872.9 1540.3,874.5 1540.5,875.8 1540.6,877.5 1540.7,879.2 1540.8,881.4 1540.9,882.9 1541.0,884.8 1541.2,886.5 1541.3,887.9 1541.4,889.2 1541.5,891.0 1541.7,893.3 1541.8,894.9 1541.9,896.6 1542.1,898.6 1542.2,900.1 1542.3,901.9 1542.5,903.5 1542.6,905.1 1542.7,906.6 1542.9,908.7 1543.0,910.1 1543.1,912.6 1543.3,914.0 1543.4,915.1 1543.5,916.9 1543.7,918.7 1543.8,920.7 1543.9,922.2 1544.1,923.8 1544.2,925.9" fill="none" stroke="#1414b8" stroke-width="4.6" stroke-linejoin="round" stroke-linecap="butt"/>
<polyline points="274.0,82.0 277.5,81.6 281.1,81.3 284.6,81.0 288.1,80.7 291.6,80.3 295.0,80.0 298.1,79.6 301.1,79.1 304.1,78.7 307.1,78.3 310.1,78.0 313.0,78.0 315.7,78.2 318.5,78.5 321.2,79.0 323.9,79.6 326.5,80.3 329.0,81.0 331.0,81.7 332.9,82.5 334.8,83.4 336.7,84.2 338.7,85.0 341.0,85.6 344.4,86.1 348.2,86.3 352.2,86.4 356.4,86.4 360.7,86.4 364.9,86.4 369.8,86.4 374.9,86.5 380.0,86.5 385.1,86.5 390.2,86.4 394.9,86.4 398.8,86.4 402.7,86.4 406.5,86.4 410.1,86.3 413.6,86.1 416.9,85.6 419.5,84.9 421.8,83.9 424.1,82.9 426.3,81.8 428.6,80.8 430.9,80.0 433.2,79.4 435.4,78.9 437.7,78.5 440.0,78.2 442.4,77.9 444.9,77.6 448.0,77.2 451.3,77.0 454.7,76.7 458.1,76.5 461.5,76.3 464.9,76.0 468.2,75.7 471.5,75.3 474.9,74.9 478.2,74.6 481.5,74.3 484.9,74.0 488.2,73.7 491.6,73.5 495.0,73.4 498.4,73.2 501.7,73.1 504.9,73.0 507.6,72.9 510.4,72.8 513.0,72.7 515.7,72.6 518.3,72.7 520.8,73.0 523.3,73.4 525.6,74.0 527.9,74.7 530.2,75.4 532.5,76.2 534.8,77.0 537.2,77.8 539.5,78.7 541.8,79.7 544.1,80.6 546.4,81.4 548.8,82.0 551.4,82.4 554.1,82.7 556.8,82.8 559.5,82.9 562.2,82.9 564.8,83.0 567.1,83.0 569.3,83.0 571.5,83.0 573.7,83.0 576.1,83.0 578.8,83.0 584.1,83.1 590.2,83.2 596.8,83.4 603.6,83.5 610.1,83.4 616.0,83.0 620.3,82.4 624.3,81.6 628.1,80.7 632.0,79.7 635.9,78.8 640.0,78.0 644.8,77.2 649.7,76.4 654.7,75.7 659.8,75.1 664.9,74.5 669.9,74.0 675.0,73.5 680.1,73.2 685.1,72.9 690.2,72.6 695.1,72.5 699.9,72.4 704.1,72.3 708.3,72.3 712.4,72.3 716.4,72.4 720.2,72.6 723.9,73.0 726.8,73.5 729.4,74.2 732.0,74.9 734.6,75.7 737.2,76.4 739.9,77.0 743.0,77.5 746.1,77.9 749.3,78.2 752.6,78.5 756.1,78.8 759.9,79.0 765.9,79.2 772.5,79.3 779.6,79.2 786.7,79.2 793.5,79.1 799.9,79.0 804.5,79.0 809.0,79.0 813.3,79.0 817.5,79.0 821.7,78.8 825.9,78.4 829.9,77.7 833.8,76.9 837.7,75.9 841.7,74.8 845.7,73.8 849.8,73.0 854.8,72.1 860.0,71.3 865.3,70.6 870.5,69.9 875.4,69.3 879.8,69.0 882.4,68.9 884.7,68.8 886.8,68.8 888.9,68.9 891.2,68.9 893.8,69.0 898.4,69.0 903.8,68.9 909.4,68.8 915.1,68.8 920.4,69.1 925.0,69.6 927.6,70.2 929.8,70.9 931.9,71.7 934.0,72.6 936.3,73.4 939.0,74.0 943.9,74.6 949.5,75.0 955.5,75.3 961.9,75.4 968.4,75.5 975.0,75.6 983.1,75.8 991.8,76.0 1000.8,76.1 1009.6,76.2 1017.8,76.0 1024.9,75.6 1028.7,75.1 1032.1,74.5 1035.2,73.9 1038.3,73.2 1041.4,72.6 1044.9,72.0 1049.5,71.4 1054.4,70.8 1059.5,70.3 1064.7,69.8 1069.8,69.3 1074.9,69.0 1080.0,68.6 1085.3,68.3 1090.6,68.1 1095.7,67.9 1100.5,67.9 1104.9,68.0 1107.5,68.2 1109.9,68.5 1112.1,68.9 1114.3,69.2 1116.5,69.6 1118.9,70.0 1121.4,70.3 1123.9,70.7 1126.5,71.1 1129.1,71.4 1131.9,71.7 1134.9,72.0 1139.4,72.3 1144.4,72.5 1149.6,72.6 1154.9,72.7 1160.1,72.8 1164.8,73.0 1168.4,73.2 1171.7,73.4 1175.0,73.6 1178.2,73.8 1181.4,73.9 1184.8,74.0 1188.7,73.9 1192.5,73.8 1196.4,73.6 1200.5,73.4 1204.6,73.2 1208.8,73.0 1214.0,72.8 1219.5,72.6 1225.0,72.4 1230.7,72.2 1236.3,71.9 1241.9,71.4 1247.2,70.8 1252.5,70.0 1257.8,69.1 1263.1,68.3 1268.4,67.6 1273.7,67.2 1279.0,67.1 1284.3,67.4 1289.6,67.8 1294.9,68.2 1300.3,68.5 1305.6,68.7 1311.1,68.5 1316.8,68.1 1322.6,67.7 1328.1,67.2 1333.1,67.0 1337.4,67.2 1339.5,67.5 1341.2,67.9 1342.7,68.4 1344.3,69.0 1346.0,69.4 1348.0,69.7 1352.3,69.9 1357.2,69.8 1362.6,69.6 1368.3,69.2 1374.1,68.9 1379.9,68.7 1386.8,68.6 1394.1,68.6 1401.7,68.7 1409.1,68.8 1416.1,68.8 1422.4,68.7 1426.2,68.5 1429.7,68.4 1433.0,68.2 1436.2,68.0 1439.7,67.8 1443.6,67.6 1449.9,67.3 1456.9,66.9 1464.3,66.5 1471.8,66.1 1479.2,65.7 1486.1,65.5 1491.6,65.3 1497.0,65.2 1502.3,65.1 1507.5,65.1 1512.7,65.1 1517.9,65.1 1523.2,65.1 1528.5,65.1 1533.8,65.2 1539.2,65.3 1544.5,65.4 1549.8,65.5" fill="none" stroke="#1414b8" stroke-width="4.6" stroke-linejoin="round" stroke-linecap="butt"/>
</g>
<g stroke="#b03c3c" stroke-width="3.4" stroke-dasharray="13.5 5.8" fill="none">
<line x1="516.9" y1="487" x2="516.9" y2="422.4"/>
<line x1="616.9" y1="683" x2="616.9" y2="422.4"/>
<line x1="939.4" y1="127" x2="939.4" y2="50.2"/>
</g>
<rect x="271.8" y="47.0" width="1270.0" height="981.0" fill="none" stroke="#000" stroke-width="6.0"/>
<line x1="248" y1="47.0" x2="271.8" y2="47.0" stroke="#000" stroke-width="6.0"/>
<text x="223.3" y="62.8" text-anchor="end" font-family="'DejaVu Sans', 'Liberation Sans', sans-serif" font-size="40.4">0.00</text>
<line x1="248" y1="210.5" x2="271.8" y2="210.5" stroke="#000" stroke-width="6.0"/>
<text x="223.3" y="225.9" text-anchor="end" font-family="'DejaVu Sans', 'Liberation Sans', sans-serif" font-size="40.4">−0.01</text>
<line x1="248" y1="374.0" x2="271.8" y2="374.0" stroke="#000" stroke-width="6.0"/>
<text x="223.3" y="389.0" text-anchor="end" font-family="'DejaVu Sans', 'Liberation Sans', sans-serif" font-size="40.4">−0.02</text>
<line x1="248" y1="537.5" x2="271.8" y2="537.5" stroke="#000" stroke-width="6.0"/>
<text x="223.3" y="552.1" text-anchor="end" font-family="'DejaVu Sans', 'Liberation Sans', sans-serif" font-size="40.4">−0.03</text>
<line x1="248" y1="701.0" x2="271.8" y2="701.0" stroke="#000" stroke-width="6.0"/>
<text x="223.3" y="715.2" text-anchor="end" font-family="'DejaVu Sans', 'Liberation Sans', sans-serif" font-size="40.4">−0.04</text>
<line x1="248" y1="864.5" x2="271.8" y2="864.5" stroke="#000" stroke-width="6.0"/>
<text x="223.3" y="878.3" text-anchor="end" font-family="'DejaVu Sans', 'Liberation Sans', sans-serif" font-size="40.4">−0.05</text>
<line x1="248" y1="1028.0" x2="271.8" y2="1028.0" stroke="#000" stroke-width="6.0"/>
<text x="223.3" y="1041.4" text-anchor="end" font-family="'DejaVu Sans', 'Liberation Sans', sans-serif" font-size="40.4">−0.06</text>
<line x1="271.8" y1="1028.0" x2="271.8" y2="1053" stroke="#000" stroke-width="6.0"/>
<text x="271.8" y="1109" text-anchor="middle" font-family="'DejaVu Sans', 'Liberation Sans', sans-serif" font-size="40">0</text>
<line x1="550.3" y1="1028.0" x2="550.3" y2="1053" stroke="#000" stroke-width="6.0"/>
<text x="550.3" y="1109" text-anchor="middle" font-family="'DejaVu Sans', 'Liberation Sans', sans-serif" font-size="40">500</text>
<line x1="828.8" y1="1028.0" x2="828.8" y2="1053" stroke="#000" stroke-width="6.0"/>
<text x="828.8" y="1109" text-anchor="middle" font-family="'DejaVu Sans', 'Liberation Sans', sans-serif" font-size="40">1000</text>
<line x1="1107.3" y1="1028.0" x2="1107.3" y2="1053" stroke="#000" stroke-width="6.0"/>
<text x="1107.3" y="1109" text-anchor="middle" font-family="'DejaVu Sans', 'Liberation Sans', sans-serif" font-size="40">1500</text>
<line x1="1385.8" y1="1028.0" x2="1385.8" y2="1053" stroke="#000" stroke-width="6.0"/>
<text x="1385.8" y="1109" text-anchor="middle" font-family="'DejaVu Sans', 'Liberation Sans', sans-serif" font-size="40">2000</text>
<text transform="translate(905.5,1168) scale(1,1.08)" text-anchor="middle" font-family="'DejaVu Sans', 'Liberation Sans', sans-serif" font-size="41">Time (s)</text>
<text transform="translate(68.5,537) scale(1,1.085) rotate(-90)" text-anchor="middle" font-family="'DejaVu Sans', 'Liberation Sans', sans-serif" font-size="40">J (mA/cm<tspan font-size="30" dx="1" dy="-16">2</tspan><tspan dx="1" dy="16">)</tspan></text>
<text transform="translate(529.8,403.3) scale(1,1.09) rotate(-90)" font-family="'DejaVu Sans', 'Liberation Sans', sans-serif" font-size="40">Light on</text>
<text transform="translate(630.3,407.5) scale(1,1.09) rotate(-90)" font-family="'DejaVu Sans', 'Liberation Sans', sans-serif" font-size="40">Light off</text>
<text x="774" y="162" font-family="'DejaVu Sans', 'Liberation Sans', sans-serif" font-size="40">N<tspan font-size="28" dy="6">2</tspan><tspan dx="2" dy="-6" font-size="40.8"> atmosphere</tspan></text>
<g stroke-width="3.6">
<line x1="1207" y1="106.5" x2="1291.3" y2="106.5" stroke="#000"/>
<line x1="1207" y1="174.2" x2="1291.3" y2="174.2" stroke="#167516"/>
<line x1="1207" y1="237" x2="1291.3" y2="237" stroke="#1414b8"/>
</g>
<text x="1324" y="122" font-family="'DejaVu Sans', 'Liberation Sans', sans-serif" font-size="41">PPy-ClO<tspan font-size="28" dx="2" dy="6">4</tspan></text>
<text x="1323" y="189.3" font-family="'DejaVu Sans', 'Liberation Sans', sans-serif" font-size="40">PPy-L</text>
<text x="1323" y="252" font-family="'DejaVu Sans', 'Liberation Sans', sans-serif" font-size="40">PPy-C</text>
</g>
</svg>
</body></html>
